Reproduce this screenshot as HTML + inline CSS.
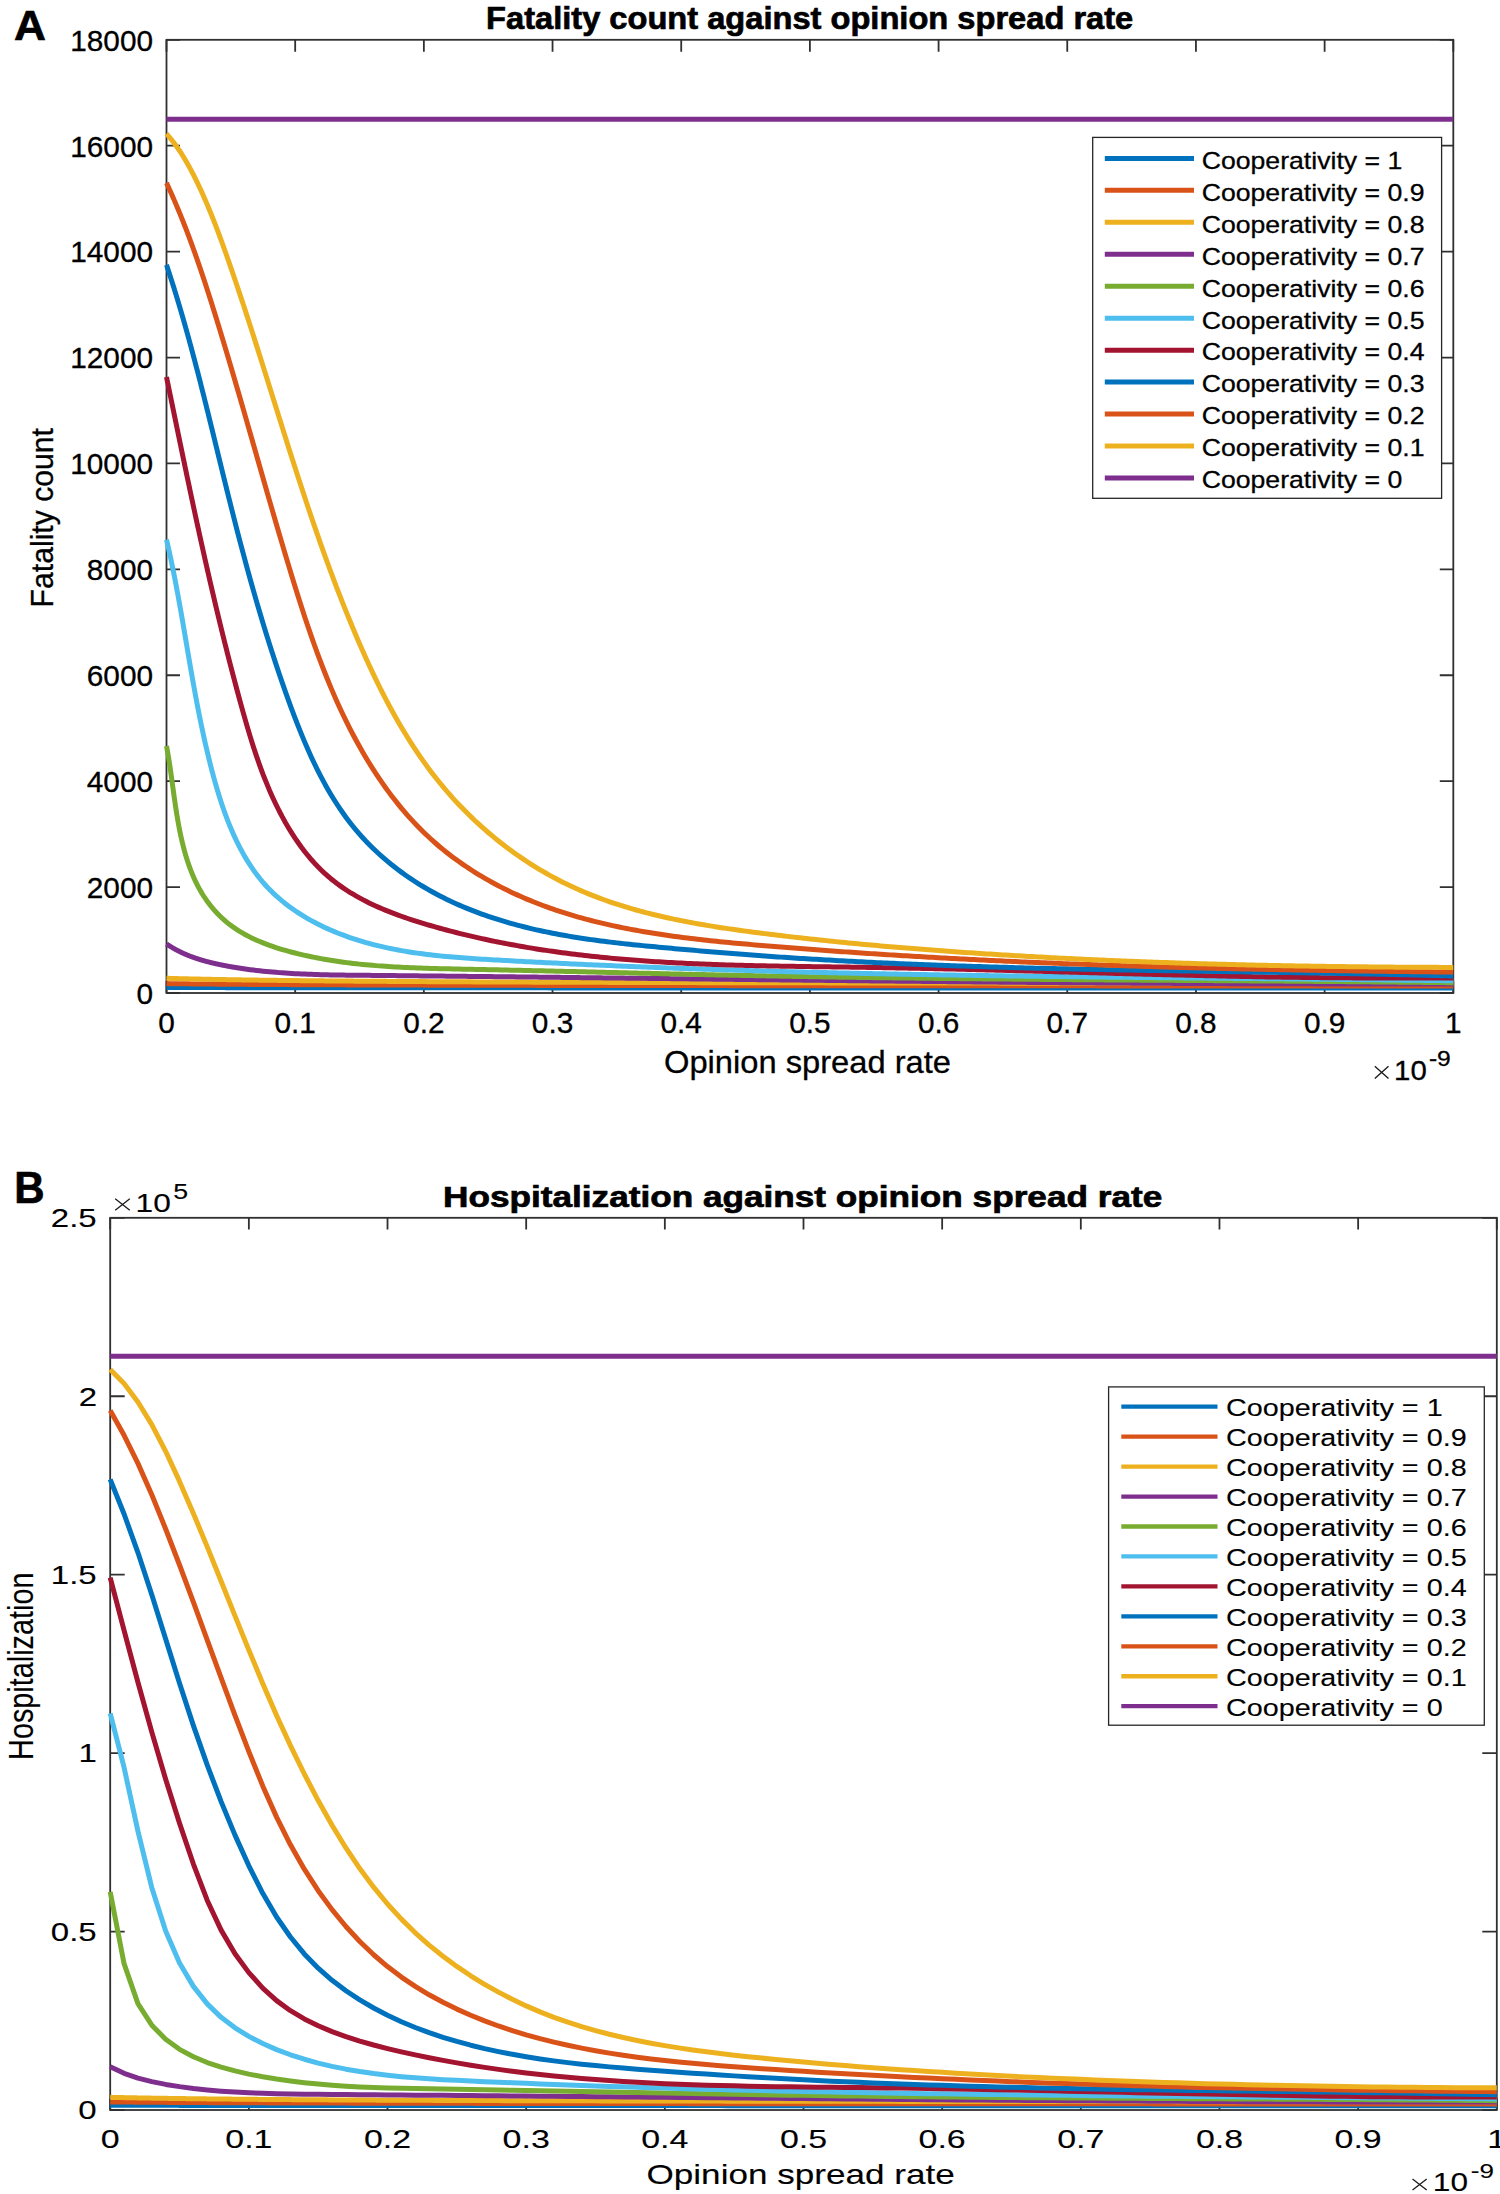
<!DOCTYPE html><html><head><meta charset="utf-8"><style>html,body{margin:0;padding:0;background:#fff;}svg{display:block;}text{font-family:"Liberation Sans", sans-serif;}</style></head><body>
<svg width="1500" height="2194" viewBox="0 0 1500 2194">
<rect width="1500" height="2194" fill="#fff"/>
<g stroke="#303030" stroke-width="1.8" fill="none" stroke-linecap="square">
<rect x="166.5" y="39.8" width="1286.8" height="953.2"/>
<path d="M166.50,993.0V981.00M166.50,39.8V51.80M295.18,993.0V981.00M295.18,39.8V51.80M423.86,993.0V981.00M423.86,39.8V51.80M552.54,993.0V981.00M552.54,39.8V51.80M681.22,993.0V981.00M681.22,39.8V51.80M809.90,993.0V981.00M809.90,39.8V51.80M938.58,993.0V981.00M938.58,39.8V51.80M1067.26,993.0V981.00M1067.26,39.8V51.80M1195.94,993.0V981.00M1195.94,39.8V51.80M1324.62,993.0V981.00M1324.62,39.8V51.80M1453.30,993.0V981.00M1453.30,39.8V51.80M166.5,993.00H180.00M1453.3,993.00H1439.80M166.5,887.09H180.00M1453.3,887.09H1439.80M166.5,781.18H180.00M1453.3,781.18H1439.80M166.5,675.27H180.00M1453.3,675.27H1439.80M166.5,569.36H180.00M1453.3,569.36H1439.80M166.5,463.44H180.00M1453.3,463.44H1439.80M166.5,357.53H180.00M1453.3,357.53H1439.80M166.5,251.62H180.00M1453.3,251.62H1439.80M166.5,145.71H180.00M1453.3,145.71H1439.80M166.5,39.80H180.00M1453.3,39.80H1439.80" stroke-linecap="butt"/>
</g>
<g fill="none" stroke-width="5.0" stroke-linejoin="round" stroke-linecap="butt">
<path d="M166.50,987.50 L167.14,987.50 L167.79,987.50 L168.43,987.51 L169.07,987.51 L169.72,987.51 L170.36,987.51 L171.00,987.51 L171.65,987.51 L172.29,987.52 L172.93,987.52 L173.58,987.52 L174.22,987.52 L174.86,987.52 L175.51,987.52 L176.15,987.53 L176.79,987.53 L177.44,987.53 L178.08,987.53 L178.72,987.53 L179.37,987.53 L180.01,987.53 L180.65,987.54 L181.30,987.54 L181.94,987.54 L182.59,987.54 L183.23,987.54 L183.87,987.54 L184.52,987.55 L185.16,987.55 L185.80,987.55 L186.45,987.55 L187.09,987.55 L187.73,987.55 L188.38,987.55 L189.02,987.56 L189.66,987.56 L190.31,987.56 L190.95,987.56 L191.59,987.56 L192.24,987.56 L193.52,987.57 L194.81,987.57 L196.10,987.57 L197.38,987.57 L198.67,987.58 L199.96,987.58 L201.24,987.58 L202.53,987.58 L203.82,987.59 L205.10,987.59 L206.39,987.59 L207.68,987.59 L208.96,987.60 L210.25,987.60 L211.54,987.60 L212.82,987.60 L214.11,987.61 L215.40,987.61 L216.69,987.61 L217.97,987.61 L219.26,987.62 L220.55,987.62 L221.83,987.62 L223.12,987.62 L224.41,987.62 L225.69,987.63 L226.98,987.63 L228.27,987.63 L229.55,987.63 L230.84,987.63 L232.13,987.64 L233.41,987.64 L234.70,987.64 L235.99,987.64 L237.27,987.64 L238.56,987.65 L239.85,987.65 L241.13,987.65 L242.42,987.65 L243.71,987.65 L244.99,987.66 L246.28,987.66 L247.57,987.66 L248.86,987.66 L250.14,987.66 L251.43,987.67 L252.72,987.67 L254.00,987.67 L255.29,987.67 L256.58,987.67 L257.86,987.67 L259.15,987.68 L260.44,987.68 L261.72,987.68 L263.01,987.68 L264.30,987.68 L265.58,987.68 L266.87,987.69 L268.16,987.69 L269.44,987.69 L270.73,987.69 L272.02,987.69 L273.30,987.69 L274.59,987.70 L275.88,987.70 L277.16,987.70 L278.45,987.70 L279.74,987.70 L281.03,987.70 L282.31,987.70 L283.60,987.71 L284.89,987.71 L286.17,987.71 L287.46,987.71 L288.75,987.71 L290.03,987.71 L291.32,987.71 L292.61,987.72 L293.89,987.72 L295.18,987.72 L296.47,987.72 L297.75,987.72 L299.04,987.72 L300.33,987.72 L301.61,987.73 L302.90,987.73 L304.19,987.73 L305.47,987.73 L306.76,987.73 L308.05,987.73 L309.33,987.73 L310.62,987.73 L311.91,987.74 L313.20,987.74 L314.48,987.74 L315.77,987.74 L317.06,987.74 L318.34,987.74 L319.63,987.74 L320.92,987.74 L322.20,987.75 L323.49,987.75 L324.78,987.75 L326.06,987.75 L327.35,987.75 L328.64,987.75 L329.92,987.75 L331.21,987.75 L332.50,987.75 L333.78,987.76 L335.07,987.76 L336.36,987.76 L337.64,987.76 L338.93,987.76 L340.22,987.76 L341.50,987.76 L342.79,987.76 L344.08,987.76 L345.37,987.77 L346.65,987.77 L347.94,987.77 L349.23,987.77 L350.51,987.77 L351.80,987.77 L353.09,987.77 L354.37,987.77 L355.66,987.77 L356.95,987.77 L358.23,987.78 L359.52,987.78 L360.81,987.78 L362.09,987.78 L363.38,987.78 L364.67,987.78 L365.95,987.78 L367.24,987.78 L368.53,987.78 L369.81,987.78 L371.10,987.78 L372.39,987.79 L373.67,987.79 L374.96,987.79 L376.25,987.79 L377.54,987.79 L378.82,987.79 L380.11,987.79 L381.40,987.79 L382.68,987.79 L383.97,987.79 L385.26,987.79 L386.54,987.80 L387.83,987.80 L389.12,987.80 L390.40,987.80 L391.69,987.80 L392.98,987.80 L394.26,987.80 L395.55,987.80 L396.84,987.80 L398.12,987.80 L399.41,987.80 L400.70,987.80 L401.98,987.81 L403.27,987.81 L404.56,987.81 L405.84,987.81 L407.13,987.81 L408.42,987.81 L409.71,987.81 L410.99,987.81 L412.28,987.81 L413.57,987.81 L414.85,987.81 L416.14,987.81 L417.43,987.81 L418.71,987.82 L420.00,987.82 L421.29,987.82 L422.57,987.82 L423.86,987.82 L430.29,987.82 L436.73,987.83 L443.16,987.83 L449.60,987.83 L456.03,987.84 L462.46,987.84 L468.90,987.84 L475.33,987.84 L481.77,987.85 L488.20,987.85 L494.63,987.85 L501.07,987.86 L507.50,987.86 L513.94,987.86 L520.37,987.86 L526.80,987.87 L533.24,987.87 L539.67,987.87 L546.11,987.87 L552.54,987.88 L558.97,987.88 L565.41,987.88 L571.84,987.88 L578.28,987.88 L584.71,987.89 L591.14,987.89 L597.58,987.89 L604.01,987.89 L610.45,987.89 L616.88,987.90 L623.31,987.90 L629.75,987.90 L636.18,987.90 L642.62,987.90 L649.05,987.90 L655.48,987.91 L661.92,987.91 L668.35,987.91 L674.79,987.91 L681.22,987.91 L687.65,987.91 L694.09,987.91 L700.52,987.92 L706.96,987.92 L713.39,987.92 L719.82,987.92 L726.26,987.92 L732.69,987.92 L739.13,987.92 L745.56,987.93 L751.99,987.93 L758.43,987.93 L764.86,987.93 L771.30,987.93 L777.73,987.93 L784.16,987.93 L790.60,987.93 L797.03,987.94 L803.47,987.94 L809.90,987.94 L816.33,987.94 L822.77,987.94 L829.20,987.94 L835.64,987.94 L842.07,987.94 L848.50,987.94 L854.94,987.94 L861.37,987.95 L867.81,987.95 L874.24,987.95 L880.67,987.95 L887.11,987.95 L893.54,987.95 L899.98,987.95 L906.41,987.95 L912.84,987.95 L919.28,987.95 L925.71,987.95 L932.15,987.96 L938.58,987.96 L945.01,987.96 L951.45,987.96 L957.88,987.96 L964.32,987.96 L970.75,987.96 L977.18,987.96 L983.62,987.96 L990.05,987.96 L996.49,987.96 L1002.92,987.96 L1009.35,987.97 L1015.79,987.97 L1022.22,987.97 L1028.66,987.97 L1035.09,987.97 L1041.52,987.97 L1047.96,987.97 L1054.39,987.97 L1060.83,987.97 L1067.26,987.97 L1073.69,987.97 L1080.13,987.97 L1086.56,987.97 L1093.00,987.97 L1099.43,987.97 L1105.86,987.97 L1112.30,987.98 L1118.73,987.98 L1125.17,987.98 L1131.60,987.98 L1138.03,987.98 L1144.47,987.98 L1150.90,987.98 L1157.34,987.98 L1163.77,987.98 L1170.20,987.98 L1176.64,987.98 L1183.07,987.98 L1189.51,987.98 L1195.94,987.98 L1202.37,987.98 L1208.81,987.98 L1215.24,987.98 L1221.68,987.98 L1228.11,987.99 L1234.54,987.99 L1240.98,987.99 L1247.41,987.99 L1253.85,987.99 L1260.28,987.99 L1266.71,987.99 L1273.15,987.99 L1279.58,987.99 L1286.02,987.99 L1292.45,987.99 L1298.88,987.99 L1305.32,987.99 L1311.75,987.99 L1318.19,987.99 L1324.62,987.99 L1331.05,987.99 L1337.49,987.99 L1343.92,987.99 L1350.36,987.99 L1356.79,987.99 L1363.22,987.99 L1369.66,988.00 L1376.09,988.00 L1382.53,988.00 L1388.96,988.00 L1395.39,988.00 L1401.83,988.00 L1408.26,988.00 L1414.70,988.00 L1421.13,988.00 L1427.56,988.00 L1434.00,988.00 L1440.43,988.00 L1446.87,988.00 L1453.30,988.00" stroke="#0072BD"/>
<path d="M166.50,983.60 L167.14,983.61 L167.79,983.62 L168.43,983.62 L169.07,983.63 L169.72,983.64 L170.36,983.65 L171.00,983.66 L171.65,983.67 L172.29,983.67 L172.93,983.68 L173.58,983.69 L174.22,983.70 L174.86,983.71 L175.51,983.71 L176.15,983.72 L176.79,983.73 L177.44,983.74 L178.08,983.74 L178.72,983.75 L179.37,983.76 L180.01,983.77 L180.65,983.77 L181.30,983.78 L181.94,983.79 L182.59,983.80 L183.23,983.80 L183.87,983.81 L184.52,983.82 L185.16,983.82 L185.80,983.83 L186.45,983.84 L187.09,983.85 L187.73,983.85 L188.38,983.86 L189.02,983.87 L189.66,983.87 L190.31,983.88 L190.95,983.89 L191.59,983.89 L192.24,983.90 L193.52,983.91 L194.81,983.93 L196.10,983.94 L197.38,983.95 L198.67,983.97 L199.96,983.98 L201.24,983.99 L202.53,984.00 L203.82,984.01 L205.10,984.03 L206.39,984.04 L207.68,984.05 L208.96,984.06 L210.25,984.07 L211.54,984.09 L212.82,984.10 L214.11,984.11 L215.40,984.12 L216.69,984.13 L217.97,984.14 L219.26,984.15 L220.55,984.16 L221.83,984.17 L223.12,984.18 L224.41,984.20 L225.69,984.21 L226.98,984.22 L228.27,984.23 L229.55,984.24 L230.84,984.25 L232.13,984.26 L233.41,984.27 L234.70,984.28 L235.99,984.29 L237.27,984.29 L238.56,984.30 L239.85,984.31 L241.13,984.32 L242.42,984.33 L243.71,984.34 L244.99,984.35 L246.28,984.36 L247.57,984.37 L248.86,984.38 L250.14,984.39 L251.43,984.39 L252.72,984.40 L254.00,984.41 L255.29,984.42 L256.58,984.43 L257.86,984.44 L259.15,984.44 L260.44,984.45 L261.72,984.46 L263.01,984.47 L264.30,984.48 L265.58,984.48 L266.87,984.49 L268.16,984.50 L269.44,984.51 L270.73,984.52 L272.02,984.52 L273.30,984.53 L274.59,984.54 L275.88,984.55 L277.16,984.55 L278.45,984.56 L279.74,984.57 L281.03,984.57 L282.31,984.58 L283.60,984.59 L284.89,984.60 L286.17,984.60 L287.46,984.61 L288.75,984.62 L290.03,984.62 L291.32,984.63 L292.61,984.64 L293.89,984.64 L295.18,984.65 L296.47,984.66 L297.75,984.66 L299.04,984.67 L300.33,984.68 L301.61,984.68 L302.90,984.69 L304.19,984.69 L305.47,984.70 L306.76,984.71 L308.05,984.71 L309.33,984.72 L310.62,984.73 L311.91,984.73 L313.20,984.74 L314.48,984.74 L315.77,984.75 L317.06,984.75 L318.34,984.76 L319.63,984.77 L320.92,984.77 L322.20,984.78 L323.49,984.78 L324.78,984.79 L326.06,984.79 L327.35,984.80 L328.64,984.81 L329.92,984.81 L331.21,984.82 L332.50,984.82 L333.78,984.83 L335.07,984.83 L336.36,984.84 L337.64,984.84 L338.93,984.85 L340.22,984.85 L341.50,984.86 L342.79,984.86 L344.08,984.87 L345.37,984.87 L346.65,984.88 L347.94,984.88 L349.23,984.89 L350.51,984.89 L351.80,984.90 L353.09,984.90 L354.37,984.91 L355.66,984.91 L356.95,984.92 L358.23,984.92 L359.52,984.93 L360.81,984.93 L362.09,984.94 L363.38,984.94 L364.67,984.94 L365.95,984.95 L367.24,984.95 L368.53,984.96 L369.81,984.96 L371.10,984.97 L372.39,984.97 L373.67,984.98 L374.96,984.98 L376.25,984.98 L377.54,984.99 L378.82,984.99 L380.11,985.00 L381.40,985.00 L382.68,985.01 L383.97,985.01 L385.26,985.01 L386.54,985.02 L387.83,985.02 L389.12,985.03 L390.40,985.03 L391.69,985.03 L392.98,985.04 L394.26,985.04 L395.55,985.05 L396.84,985.05 L398.12,985.05 L399.41,985.06 L400.70,985.06 L401.98,985.07 L403.27,985.07 L404.56,985.07 L405.84,985.08 L407.13,985.08 L408.42,985.08 L409.71,985.09 L410.99,985.09 L412.28,985.10 L413.57,985.10 L414.85,985.10 L416.14,985.11 L417.43,985.11 L418.71,985.11 L420.00,985.12 L421.29,985.12 L422.57,985.12 L423.86,985.13 L430.29,985.14 L436.73,985.16 L443.16,985.18 L449.60,985.19 L456.03,985.21 L462.46,985.22 L468.90,985.24 L475.33,985.25 L481.77,985.27 L488.20,985.28 L494.63,985.29 L501.07,985.31 L507.50,985.32 L513.94,985.33 L520.37,985.34 L526.80,985.36 L533.24,985.37 L539.67,985.38 L546.11,985.39 L552.54,985.40 L558.97,985.41 L565.41,985.42 L571.84,985.43 L578.28,985.44 L584.71,985.45 L591.14,985.46 L597.58,985.47 L604.01,985.48 L610.45,985.49 L616.88,985.50 L623.31,985.51 L629.75,985.51 L636.18,985.52 L642.62,985.53 L649.05,985.54 L655.48,985.55 L661.92,985.55 L668.35,985.56 L674.79,985.57 L681.22,985.58 L687.65,985.58 L694.09,985.59 L700.52,985.60 L706.96,985.60 L713.39,985.61 L719.82,985.62 L726.26,985.62 L732.69,985.63 L739.13,985.64 L745.56,985.64 L751.99,985.65 L758.43,985.66 L764.86,985.66 L771.30,985.67 L777.73,985.67 L784.16,985.68 L790.60,985.68 L797.03,985.69 L803.47,985.69 L809.90,985.70 L816.33,985.71 L822.77,985.71 L829.20,985.72 L835.64,985.72 L842.07,985.73 L848.50,985.73 L854.94,985.73 L861.37,985.74 L867.81,985.74 L874.24,985.75 L880.67,985.75 L887.11,985.76 L893.54,985.76 L899.98,985.77 L906.41,985.77 L912.84,985.77 L919.28,985.78 L925.71,985.78 L932.15,985.79 L938.58,985.79 L945.01,985.80 L951.45,985.80 L957.88,985.80 L964.32,985.81 L970.75,985.81 L977.18,985.81 L983.62,985.82 L990.05,985.82 L996.49,985.83 L1002.92,985.83 L1009.35,985.83 L1015.79,985.84 L1022.22,985.84 L1028.66,985.84 L1035.09,985.85 L1041.52,985.85 L1047.96,985.85 L1054.39,985.86 L1060.83,985.86 L1067.26,985.86 L1073.69,985.86 L1080.13,985.87 L1086.56,985.87 L1093.00,985.87 L1099.43,985.88 L1105.86,985.88 L1112.30,985.88 L1118.73,985.89 L1125.17,985.89 L1131.60,985.89 L1138.03,985.89 L1144.47,985.90 L1150.90,985.90 L1157.34,985.90 L1163.77,985.90 L1170.20,985.91 L1176.64,985.91 L1183.07,985.91 L1189.51,985.91 L1195.94,985.92 L1202.37,985.92 L1208.81,985.92 L1215.24,985.92 L1221.68,985.93 L1228.11,985.93 L1234.54,985.93 L1240.98,985.93 L1247.41,985.94 L1253.85,985.94 L1260.28,985.94 L1266.71,985.94 L1273.15,985.95 L1279.58,985.95 L1286.02,985.95 L1292.45,985.95 L1298.88,985.95 L1305.32,985.96 L1311.75,985.96 L1318.19,985.96 L1324.62,985.96 L1331.05,985.96 L1337.49,985.97 L1343.92,985.97 L1350.36,985.97 L1356.79,985.97 L1363.22,985.97 L1369.66,985.98 L1376.09,985.98 L1382.53,985.98 L1388.96,985.98 L1395.39,985.98 L1401.83,985.99 L1408.26,985.99 L1414.70,985.99 L1421.13,985.99 L1427.56,985.99 L1434.00,985.99 L1440.43,986.00 L1446.87,986.00 L1453.30,986.00" stroke="#D95319"/>
<path d="M166.50,978.30 L167.14,978.32 L167.79,978.34 L168.43,978.35 L169.07,978.37 L169.72,978.39 L170.36,978.41 L171.00,978.42 L171.65,978.44 L172.29,978.46 L172.93,978.48 L173.58,978.49 L174.22,978.51 L174.86,978.53 L175.51,978.54 L176.15,978.56 L176.79,978.58 L177.44,978.59 L178.08,978.61 L178.72,978.63 L179.37,978.64 L180.01,978.66 L180.65,978.68 L181.30,978.69 L181.94,978.71 L182.59,978.72 L183.23,978.74 L183.87,978.75 L184.52,978.77 L185.16,978.79 L185.80,978.80 L186.45,978.82 L187.09,978.83 L187.73,978.85 L188.38,978.86 L189.02,978.88 L189.66,978.89 L190.31,978.91 L190.95,978.92 L191.59,978.94 L192.24,978.95 L193.52,978.98 L194.81,979.01 L196.10,979.04 L197.38,979.06 L198.67,979.09 L199.96,979.12 L201.24,979.15 L202.53,979.17 L203.82,979.20 L205.10,979.23 L206.39,979.25 L207.68,979.28 L208.96,979.30 L210.25,979.33 L211.54,979.35 L212.82,979.38 L214.11,979.40 L215.40,979.43 L216.69,979.45 L217.97,979.47 L219.26,979.50 L220.55,979.52 L221.83,979.54 L223.12,979.57 L224.41,979.59 L225.69,979.61 L226.98,979.63 L228.27,979.66 L229.55,979.68 L230.84,979.70 L232.13,979.72 L233.41,979.74 L234.70,979.76 L235.99,979.78 L237.27,979.81 L238.56,979.83 L239.85,979.85 L241.13,979.87 L242.42,979.89 L243.71,979.91 L244.99,979.93 L246.28,979.94 L247.57,979.96 L248.86,979.98 L250.14,980.00 L251.43,980.02 L252.72,980.04 L254.00,980.06 L255.29,980.08 L256.58,980.09 L257.86,980.11 L259.15,980.13 L260.44,980.15 L261.72,980.17 L263.01,980.18 L264.30,980.20 L265.58,980.22 L266.87,980.23 L268.16,980.25 L269.44,980.27 L270.73,980.28 L272.02,980.30 L273.30,980.32 L274.59,980.33 L275.88,980.35 L277.16,980.36 L278.45,980.38 L279.74,980.40 L281.03,980.41 L282.31,980.43 L283.60,980.44 L284.89,980.46 L286.17,980.47 L287.46,980.49 L288.75,980.50 L290.03,980.52 L291.32,980.53 L292.61,980.55 L293.89,980.56 L295.18,980.57 L296.47,980.59 L297.75,980.60 L299.04,980.62 L300.33,980.63 L301.61,980.64 L302.90,980.66 L304.19,980.67 L305.47,980.69 L306.76,980.70 L308.05,980.71 L309.33,980.73 L310.62,980.74 L311.91,980.75 L313.20,980.76 L314.48,980.78 L315.77,980.79 L317.06,980.80 L318.34,980.81 L319.63,980.83 L320.92,980.84 L322.20,980.85 L323.49,980.86 L324.78,980.88 L326.06,980.89 L327.35,980.90 L328.64,980.91 L329.92,980.92 L331.21,980.94 L332.50,980.95 L333.78,980.96 L335.07,980.97 L336.36,980.98 L337.64,980.99 L338.93,981.00 L340.22,981.01 L341.50,981.03 L342.79,981.04 L344.08,981.05 L345.37,981.06 L346.65,981.07 L347.94,981.08 L349.23,981.09 L350.51,981.10 L351.80,981.11 L353.09,981.12 L354.37,981.13 L355.66,981.14 L356.95,981.15 L358.23,981.16 L359.52,981.17 L360.81,981.18 L362.09,981.19 L363.38,981.20 L364.67,981.21 L365.95,981.22 L367.24,981.23 L368.53,981.24 L369.81,981.25 L371.10,981.26 L372.39,981.27 L373.67,981.28 L374.96,981.29 L376.25,981.30 L377.54,981.31 L378.82,981.32 L380.11,981.33 L381.40,981.34 L382.68,981.35 L383.97,981.35 L385.26,981.36 L386.54,981.37 L387.83,981.38 L389.12,981.39 L390.40,981.40 L391.69,981.41 L392.98,981.42 L394.26,981.42 L395.55,981.43 L396.84,981.44 L398.12,981.45 L399.41,981.46 L400.70,981.47 L401.98,981.48 L403.27,981.48 L404.56,981.49 L405.84,981.50 L407.13,981.51 L408.42,981.52 L409.71,981.52 L410.99,981.53 L412.28,981.54 L413.57,981.55 L414.85,981.56 L416.14,981.56 L417.43,981.57 L418.71,981.58 L420.00,981.59 L421.29,981.59 L422.57,981.60 L423.86,981.61 L430.29,981.65 L436.73,981.68 L443.16,981.72 L449.60,981.75 L456.03,981.79 L462.46,981.82 L468.90,981.85 L475.33,981.88 L481.77,981.91 L488.20,981.94 L494.63,981.97 L501.07,982.00 L507.50,982.02 L513.94,982.05 L520.37,982.08 L526.80,982.10 L533.24,982.13 L539.67,982.15 L546.11,982.18 L552.54,982.20 L558.97,982.22 L565.41,982.25 L571.84,982.27 L578.28,982.29 L584.71,982.31 L591.14,982.33 L597.58,982.35 L604.01,982.37 L610.45,982.39 L616.88,982.41 L623.31,982.43 L629.75,982.45 L636.18,982.46 L642.62,982.48 L649.05,982.50 L655.48,982.52 L661.92,982.53 L668.35,982.55 L674.79,982.57 L681.22,982.58 L687.65,982.60 L694.09,982.61 L700.52,982.63 L706.96,982.64 L713.39,982.66 L719.82,982.67 L726.26,982.69 L732.69,982.70 L739.13,982.71 L745.56,982.73 L751.99,982.74 L758.43,982.75 L764.86,982.77 L771.30,982.78 L777.73,982.79 L784.16,982.80 L790.60,982.82 L797.03,982.83 L803.47,982.84 L809.90,982.85 L816.33,982.86 L822.77,982.87 L829.20,982.88 L835.64,982.89 L842.07,982.90 L848.50,982.92 L854.94,982.93 L861.37,982.94 L867.81,982.95 L874.24,982.96 L880.67,982.97 L887.11,982.98 L893.54,982.98 L899.98,982.99 L906.41,983.00 L912.84,983.01 L919.28,983.02 L925.71,983.03 L932.15,983.04 L938.58,983.05 L945.01,983.06 L951.45,983.06 L957.88,983.07 L964.32,983.08 L970.75,983.09 L977.18,983.10 L983.62,983.11 L990.05,983.11 L996.49,983.12 L1002.92,983.13 L1009.35,983.14 L1015.79,983.14 L1022.22,983.15 L1028.66,983.16 L1035.09,983.17 L1041.52,983.17 L1047.96,983.18 L1054.39,983.19 L1060.83,983.19 L1067.26,983.20 L1073.69,983.21 L1080.13,983.21 L1086.56,983.22 L1093.00,983.23 L1099.43,983.23 L1105.86,983.24 L1112.30,983.25 L1118.73,983.25 L1125.17,983.26 L1131.60,983.26 L1138.03,983.27 L1144.47,983.28 L1150.90,983.28 L1157.34,983.29 L1163.77,983.29 L1170.20,983.30 L1176.64,983.30 L1183.07,983.31 L1189.51,983.32 L1195.94,983.32 L1202.37,983.33 L1208.81,983.33 L1215.24,983.34 L1221.68,983.34 L1228.11,983.35 L1234.54,983.35 L1240.98,983.36 L1247.41,983.36 L1253.85,983.37 L1260.28,983.37 L1266.71,983.38 L1273.15,983.38 L1279.58,983.39 L1286.02,983.39 L1292.45,983.40 L1298.88,983.40 L1305.32,983.41 L1311.75,983.41 L1318.19,983.41 L1324.62,983.42 L1331.05,983.42 L1337.49,983.43 L1343.92,983.43 L1350.36,983.44 L1356.79,983.44 L1363.22,983.44 L1369.66,983.45 L1376.09,983.45 L1382.53,983.46 L1388.96,983.46 L1395.39,983.47 L1401.83,983.47 L1408.26,983.47 L1414.70,983.48 L1421.13,983.48 L1427.56,983.48 L1434.00,983.49 L1440.43,983.49 L1446.87,983.50 L1453.30,983.50" stroke="#EDB120"/>
<path d="M166.50,943.90 L166.82,944.12 L167.14,944.34 L167.47,944.56 L167.79,944.77 L168.11,944.98 L168.43,945.19 L168.75,945.40 L169.07,945.61 L169.40,945.82 L169.72,946.02 L170.04,946.22 L170.36,946.42 L170.68,946.62 L171.00,946.82 L171.33,947.01 L171.65,947.21 L171.97,947.40 L172.29,947.59 L172.61,947.78 L172.93,947.97 L173.26,948.16 L173.58,948.34 L173.90,948.53 L174.22,948.71 L174.54,948.89 L174.86,949.07 L175.19,949.25 L175.51,949.42 L175.83,949.60 L176.15,949.77 L176.47,949.94 L176.79,950.11 L177.12,950.28 L177.44,950.45 L177.76,950.62 L178.08,950.78 L178.40,950.95 L178.72,951.11 L179.05,951.27 L179.37,951.43 L179.69,951.59 L180.01,951.75 L180.33,951.91 L180.65,952.06 L180.98,952.22 L181.30,952.37 L181.62,952.52 L181.94,952.68 L182.26,952.83 L182.59,952.97 L182.91,953.12 L183.23,953.27 L183.55,953.41 L183.87,953.56 L184.19,953.70 L184.52,953.84 L184.84,953.98 L185.16,954.12 L185.48,954.26 L185.80,954.40 L186.12,954.54 L186.45,954.67 L186.77,954.81 L187.09,954.94 L187.41,955.07 L187.73,955.20 L188.05,955.33 L188.38,955.46 L188.70,955.59 L189.02,955.72 L189.34,955.85 L189.66,955.97 L189.98,956.10 L190.31,956.22 L190.63,956.35 L190.95,956.47 L191.27,956.59 L191.59,956.71 L191.91,956.83 L192.24,956.95 L192.56,957.07 L192.88,957.18 L193.20,957.30 L193.52,957.41 L193.84,957.53 L194.17,957.64 L194.49,957.75 L194.81,957.87 L195.13,957.98 L195.45,958.09 L195.77,958.20 L196.10,958.31 L196.42,958.41 L196.74,958.52 L197.06,958.63 L197.38,958.73 L197.70,958.84 L198.03,958.94 L198.35,959.05 L198.67,959.15 L198.99,959.25 L199.31,959.35 L199.64,959.45 L199.96,959.55 L200.28,959.65 L200.60,959.75 L200.92,959.85 L201.24,959.94 L201.57,960.04 L201.89,960.14 L202.21,960.23 L202.53,960.33 L202.85,960.42 L203.17,960.51 L203.50,960.61 L203.82,960.70 L204.14,960.79 L204.46,960.88 L204.78,960.97 L205.10,961.06 L205.43,961.15 L205.75,961.24 L206.07,961.32 L206.39,961.41 L206.71,961.50 L207.03,961.58 L207.36,961.67 L207.68,961.75 L208.00,961.84 L208.32,961.92 L208.64,962.00 L208.96,962.09 L209.29,962.17 L209.61,962.25 L209.93,962.33 L210.25,962.41 L210.57,962.49 L210.89,962.57 L211.22,962.65 L211.54,962.73 L211.86,962.81 L212.18,962.88 L212.50,962.96 L212.82,963.04 L213.15,963.11 L213.47,963.19 L213.79,963.26 L214.11,963.34 L214.43,963.41 L214.75,963.49 L215.08,963.56 L215.40,963.63 L215.72,963.71 L216.04,963.78 L216.36,963.85 L216.69,963.92 L217.01,963.99 L217.33,964.06 L217.65,964.13 L217.97,964.20 L218.29,964.27 L218.62,964.34 L218.94,964.41 L219.26,964.48 L219.58,964.54 L219.90,964.61 L220.22,964.68 L220.55,964.74 L220.87,964.81 L221.19,964.88 L221.51,964.94 L221.83,965.01 L222.15,965.07 L222.48,965.14 L222.80,965.20 L223.12,965.27 L223.44,965.33 L223.76,965.39 L224.08,965.46 L224.41,965.52 L224.73,965.58 L225.05,965.64 L225.37,965.70 L225.69,965.77 L226.01,965.83 L226.34,965.89 L226.66,965.95 L226.98,966.01 L227.30,966.07 L227.62,966.13 L227.94,966.19 L228.27,966.25 L228.59,966.31 L228.91,966.37 L229.23,966.42 L229.55,966.48 L229.87,966.54 L230.20,966.60 L230.52,966.65 L230.84,966.71 L234.06,967.27 L237.27,967.80 L240.49,968.30 L243.71,968.78 L246.93,969.23 L250.14,969.67 L253.36,970.08 L256.58,970.46 L259.79,970.83 L263.01,971.17 L266.23,971.50 L269.44,971.81 L272.66,972.09 L275.88,972.36 L279.09,972.62 L282.31,972.86 L285.53,973.08 L288.75,973.28 L291.96,973.47 L295.18,973.65 L298.40,973.82 L301.61,973.97 L304.83,974.11 L308.05,974.24 L311.26,974.36 L314.48,974.47 L317.70,974.57 L320.92,974.66 L324.13,974.74 L327.35,974.81 L330.57,974.88 L333.78,974.94 L337.00,975.00 L340.22,975.05 L343.44,975.09 L346.65,975.14 L349.87,975.18 L353.09,975.21 L356.30,975.24 L359.52,975.28 L362.74,975.31 L365.95,975.34 L369.17,975.37 L372.39,975.40 L375.61,975.43 L378.82,975.46 L382.04,975.49 L385.26,975.53 L388.47,975.56 L391.69,975.59 L394.91,975.62 L398.12,975.65 L401.34,975.68 L404.56,975.72 L407.77,975.75 L410.99,975.78 L414.21,975.81 L417.43,975.85 L420.64,975.88 L423.86,975.91 L427.08,975.94 L430.29,975.98 L433.51,976.01 L436.73,976.04 L439.94,976.08 L443.16,976.11 L446.38,976.14 L449.60,976.18 L452.81,976.21 L456.03,976.25 L459.25,976.28 L462.46,976.31 L465.68,976.35 L468.90,976.38 L472.11,976.42 L475.33,976.45 L478.55,976.49 L481.77,976.52 L484.98,976.56 L488.20,976.59 L491.42,976.62 L494.63,976.66 L497.85,976.69 L501.07,976.73 L504.29,976.77 L507.50,976.80 L510.72,976.84 L513.94,976.87 L517.15,976.91 L520.37,976.94 L523.59,976.98 L526.80,977.01 L530.02,977.05 L533.24,977.08 L536.46,977.12 L539.67,977.16 L542.89,977.19 L546.11,977.23 L549.32,977.26 L552.54,977.30 L555.76,977.34 L558.97,977.37 L562.19,977.41 L565.41,977.45 L568.62,977.48 L571.84,977.52 L575.06,977.56 L578.28,977.59 L581.49,977.63 L584.71,977.66 L587.93,977.70 L591.14,977.74 L594.36,977.77 L597.58,977.81 L600.80,977.85 L604.01,977.89 L607.23,977.92 L610.45,977.96 L613.66,978.00 L616.88,978.03 L620.10,978.07 L623.31,978.11 L626.53,978.14 L629.75,978.18 L632.96,978.22 L636.18,978.25 L639.40,978.29 L642.62,978.33 L645.83,978.36 L649.05,978.40 L652.27,978.44 L655.48,978.48 L658.70,978.51 L661.92,978.55 L665.13,978.59 L668.35,978.62 L671.57,978.66 L674.79,978.70 L678.00,978.73 L681.22,978.77 L684.44,978.81 L687.65,978.85 L690.87,978.88 L694.09,978.92 L697.30,978.96 L700.52,978.99 L703.74,979.03 L706.96,979.07 L710.17,979.10 L713.39,979.14 L716.61,979.18 L719.82,979.21 L723.04,979.25 L726.26,979.29 L729.48,979.32 L732.69,979.36 L735.91,979.40 L739.13,979.43 L742.34,979.47 L745.56,979.51 L748.78,979.54 L751.99,979.58 L755.21,979.62 L758.43,979.65 L761.64,979.69 L764.86,979.72 L768.08,979.76 L771.30,979.80 L774.51,979.83 L777.73,979.87 L780.95,979.90 L784.16,979.94 L787.38,979.98 L790.60,980.01 L793.81,980.05 L797.03,980.08 L800.25,980.12 L803.47,980.15 L806.68,980.19 L809.90,980.23 L813.12,980.26 L816.33,980.30 L819.55,980.33 L822.77,980.37 L825.99,980.40 L829.20,980.44 L832.42,980.47 L835.64,980.51 L838.85,980.54 L842.07,980.57 L845.29,980.61 L848.50,980.64 L851.72,980.68 L854.94,980.71 L858.15,980.75 L861.37,980.78 L864.59,980.81 L867.81,980.85 L871.02,980.88 L874.24,980.91 L877.46,980.95 L880.67,980.98 L883.89,981.01 L887.11,981.05 L890.32,981.08 L893.54,981.11 L896.76,981.15 L899.98,981.18 L903.19,981.21 L906.41,981.24 L909.63,981.28 L912.84,981.31 L916.06,981.34 L919.28,981.37 L922.50,981.41 L925.71,981.44 L928.93,981.47 L932.15,981.50 L935.36,981.53 L938.58,981.56 L941.80,981.59 L945.01,981.62 L948.23,981.66 L951.45,981.69 L954.67,981.72 L957.88,981.75 L961.10,981.78 L964.32,981.81 L967.53,981.84 L970.75,981.87 L973.97,981.90 L977.18,981.93 L980.40,981.96 L983.62,981.99 L986.84,982.01 L990.05,982.04 L993.27,982.07 L996.49,982.10 L999.70,982.13 L1002.92,982.16 L1006.14,982.18 L1009.35,982.21 L1012.57,982.24 L1015.79,982.27 L1019.01,982.30 L1022.22,982.32 L1025.44,982.35 L1028.66,982.38 L1031.87,982.40 L1035.09,982.43 L1038.31,982.46 L1041.52,982.48 L1044.74,982.51 L1047.96,982.53 L1051.18,982.56 L1054.39,982.59 L1057.61,982.61 L1060.83,982.64 L1064.04,982.66 L1067.26,982.68 L1070.48,982.71 L1073.69,982.73 L1076.91,982.76 L1080.13,982.78 L1083.35,982.81 L1086.56,982.83 L1089.78,982.85 L1093.00,982.87 L1096.21,982.90 L1099.43,982.92 L1102.65,982.94 L1105.86,982.96 L1109.08,982.99 L1112.30,983.01 L1115.51,983.03 L1118.73,983.05 L1121.95,983.07 L1125.17,983.09 L1128.38,983.11 L1131.60,983.13 L1134.82,983.15 L1138.03,983.17 L1141.25,983.19 L1144.47,983.21 L1147.68,983.23 L1150.90,983.25 L1154.12,983.27 L1157.34,983.29 L1160.55,983.31 L1163.77,983.33 L1166.99,983.34 L1170.20,983.36 L1173.42,983.38 L1176.64,983.40 L1179.86,983.41 L1183.07,983.43 L1186.29,983.45 L1189.51,983.46 L1192.72,983.48 L1195.94,983.49 L1199.16,983.51 L1202.37,983.52 L1205.59,983.54 L1208.81,983.55 L1212.03,983.57 L1215.24,983.58 L1218.46,983.60 L1221.68,983.61 L1224.89,983.62 L1228.11,983.63 L1231.33,983.65 L1234.54,983.66 L1237.76,983.67 L1240.98,983.68 L1244.19,983.70 L1247.41,983.71 L1250.63,983.72 L1253.85,983.73 L1257.06,983.74 L1260.28,983.75 L1263.50,983.76 L1266.71,983.77 L1269.93,983.78 L1273.15,983.79 L1276.37,983.80 L1279.58,983.80 L1282.80,983.81 L1286.02,983.82 L1289.23,983.83 L1292.45,983.83 L1295.67,983.84 L1298.88,983.85 L1302.10,983.85 L1305.32,983.86 L1308.54,983.87 L1311.75,983.87 L1314.97,983.88 L1318.19,983.88 L1321.40,983.89 L1324.62,983.89 L1327.84,983.89 L1331.05,983.90 L1334.27,983.90 L1337.49,983.90 L1340.71,983.91 L1343.92,983.91 L1347.14,983.91 L1350.36,983.91 L1353.57,983.91 L1356.79,983.91 L1360.01,983.91 L1363.22,983.91 L1366.44,983.91 L1369.66,983.91 L1372.88,983.91 L1376.09,983.91 L1379.31,983.91 L1382.53,983.91 L1385.74,983.91 L1388.96,983.91 L1392.18,983.91 L1395.39,983.91 L1398.61,983.91 L1401.83,983.91 L1405.05,983.91 L1408.26,983.91 L1411.48,983.91 L1414.70,983.91 L1417.91,983.91 L1421.13,983.91 L1424.35,983.91 L1427.56,983.91 L1430.78,983.91 L1434.00,983.91 L1437.21,983.91 L1440.43,983.91 L1443.65,983.91 L1446.87,983.91 L1450.08,983.91 L1453.30,983.91" stroke="#7E2F8E"/>
<path d="M166.50,746.05 L166.82,747.74 L167.14,749.45 L167.47,751.20 L167.79,753.01 L168.11,754.87 L168.43,756.78 L168.75,758.75 L169.07,760.76 L169.40,762.83 L169.72,764.94 L170.04,767.10 L170.36,769.30 L170.68,771.54 L171.00,773.82 L171.33,776.12 L171.65,778.45 L171.97,780.79 L172.29,783.15 L172.61,785.51 L172.93,787.86 L173.26,790.22 L173.58,792.55 L173.90,794.87 L174.22,797.17 L174.54,799.44 L174.86,801.67 L175.19,803.87 L175.51,806.04 L175.83,808.16 L176.15,810.25 L176.47,812.29 L176.79,814.29 L177.12,816.25 L177.44,818.17 L177.76,820.04 L178.08,821.87 L178.40,823.66 L178.72,825.41 L179.05,827.12 L179.37,828.79 L179.69,830.42 L180.01,832.02 L180.33,833.58 L180.65,835.10 L180.98,836.59 L181.30,838.05 L181.62,839.48 L181.94,840.87 L182.26,842.24 L182.59,843.58 L182.91,844.89 L183.23,846.17 L183.55,847.43 L183.87,848.66 L184.19,849.86 L184.52,851.05 L184.84,852.21 L185.16,853.35 L185.48,854.46 L185.80,855.56 L186.12,856.64 L186.45,857.69 L186.77,858.73 L187.09,859.75 L187.41,860.75 L187.73,861.73 L188.05,862.70 L188.38,863.65 L188.70,864.59 L189.02,865.51 L189.34,866.41 L189.66,867.30 L189.98,868.18 L190.31,869.04 L190.63,869.89 L190.95,870.72 L191.27,871.54 L191.59,872.35 L191.91,873.15 L192.24,873.94 L192.56,874.71 L192.88,875.48 L193.20,876.23 L193.52,876.97 L193.84,877.70 L194.17,878.42 L194.49,879.14 L194.81,879.84 L195.13,880.53 L195.45,881.21 L195.77,881.89 L196.10,882.55 L196.42,883.21 L196.74,883.85 L197.06,884.49 L197.38,885.12 L197.70,885.75 L198.03,886.36 L198.35,886.97 L198.67,887.57 L198.99,888.16 L199.31,888.75 L199.64,889.32 L199.96,889.89 L200.28,890.46 L200.60,891.02 L200.92,891.57 L201.24,892.11 L201.57,892.65 L201.89,893.18 L202.21,893.71 L202.53,894.23 L202.85,894.75 L203.17,895.26 L203.50,895.76 L203.82,896.26 L204.14,896.76 L204.46,897.25 L204.78,897.73 L205.10,898.21 L205.43,898.68 L205.75,899.15 L206.07,899.62 L206.39,900.08 L206.71,900.53 L207.03,900.99 L207.36,901.43 L207.68,901.87 L208.00,902.31 L208.32,902.75 L208.64,903.18 L208.96,903.60 L209.29,904.02 L209.61,904.44 L209.93,904.86 L210.25,905.27 L210.57,905.67 L210.89,906.08 L211.22,906.48 L211.54,906.87 L211.86,907.26 L212.18,907.65 L212.50,908.04 L212.82,908.42 L213.15,908.80 L213.47,909.17 L213.79,909.54 L214.11,909.91 L214.43,910.28 L214.75,910.64 L215.08,911.00 L215.40,911.36 L215.72,911.71 L216.04,912.06 L216.36,912.40 L216.69,912.75 L217.01,913.09 L217.33,913.43 L217.65,913.76 L217.97,914.10 L218.29,914.42 L218.62,914.75 L218.94,915.08 L219.26,915.40 L219.58,915.72 L219.90,916.03 L220.22,916.35 L220.55,916.66 L220.87,916.97 L221.19,917.27 L221.51,917.57 L221.83,917.88 L222.15,918.17 L222.48,918.47 L222.80,918.76 L223.12,919.05 L223.44,919.34 L223.76,919.63 L224.08,919.91 L224.41,920.19 L224.73,920.47 L225.05,920.75 L225.37,921.03 L225.69,921.30 L226.01,921.57 L226.34,921.84 L226.66,922.10 L226.98,922.37 L227.30,922.63 L227.62,922.89 L227.94,923.15 L228.27,923.40 L228.59,923.66 L228.91,923.91 L229.23,924.16 L229.55,924.40 L229.87,924.65 L230.20,924.89 L230.52,925.14 L230.84,925.38 L234.06,927.68 L237.27,929.83 L240.49,931.83 L243.71,933.71 L246.93,935.47 L250.14,937.13 L253.36,938.69 L256.58,940.16 L259.79,941.55 L263.01,942.87 L266.23,944.13 L269.44,945.31 L272.66,946.44 L275.88,947.52 L279.09,948.55 L282.31,949.52 L285.53,950.46 L288.75,951.36 L291.96,952.22 L295.18,953.04 L298.40,953.83 L301.61,954.60 L304.83,955.33 L308.05,956.04 L311.26,956.72 L314.48,957.37 L317.70,958.00 L320.92,958.61 L324.13,959.19 L327.35,959.74 L330.57,960.27 L333.78,960.78 L337.00,961.27 L340.22,961.74 L343.44,962.18 L346.65,962.61 L349.87,963.02 L353.09,963.40 L356.30,963.77 L359.52,964.12 L362.74,964.45 L365.95,964.77 L369.17,965.07 L372.39,965.35 L375.61,965.62 L378.82,965.87 L382.04,966.11 L385.26,966.34 L388.47,966.55 L391.69,966.76 L394.91,966.94 L398.12,967.12 L401.34,967.29 L404.56,967.45 L407.77,967.59 L410.99,967.73 L414.21,967.86 L417.43,967.98 L420.64,968.10 L423.86,968.20 L427.08,968.30 L430.29,968.40 L433.51,968.49 L436.73,968.57 L439.94,968.65 L443.16,968.73 L446.38,968.80 L449.60,968.87 L452.81,968.94 L456.03,969.00 L459.25,969.07 L462.46,969.13 L465.68,969.20 L468.90,969.26 L472.11,969.33 L475.33,969.39 L478.55,969.46 L481.77,969.53 L484.98,969.59 L488.20,969.66 L491.42,969.73 L494.63,969.80 L497.85,969.87 L501.07,969.94 L504.29,970.01 L507.50,970.08 L510.72,970.15 L513.94,970.22 L517.15,970.29 L520.37,970.36 L523.59,970.43 L526.80,970.51 L530.02,970.58 L533.24,970.65 L536.46,970.72 L539.67,970.80 L542.89,970.87 L546.11,970.94 L549.32,971.02 L552.54,971.09 L555.76,971.17 L558.97,971.24 L562.19,971.32 L565.41,971.39 L568.62,971.47 L571.84,971.54 L575.06,971.62 L578.28,971.70 L581.49,971.77 L584.71,971.85 L587.93,971.92 L591.14,972.00 L594.36,972.08 L597.58,972.15 L600.80,972.23 L604.01,972.30 L607.23,972.38 L610.45,972.46 L613.66,972.53 L616.88,972.61 L620.10,972.68 L623.31,972.76 L626.53,972.84 L629.75,972.91 L632.96,972.99 L636.18,973.06 L639.40,973.14 L642.62,973.22 L645.83,973.29 L649.05,973.37 L652.27,973.44 L655.48,973.52 L658.70,973.59 L661.92,973.67 L665.13,973.74 L668.35,973.81 L671.57,973.89 L674.79,973.96 L678.00,974.03 L681.22,974.11 L684.44,974.18 L687.65,974.25 L690.87,974.32 L694.09,974.40 L697.30,974.47 L700.52,974.54 L703.74,974.61 L706.96,974.68 L710.17,974.75 L713.39,974.82 L716.61,974.89 L719.82,974.96 L723.04,975.03 L726.26,975.09 L729.48,975.16 L732.69,975.23 L735.91,975.30 L739.13,975.36 L742.34,975.43 L745.56,975.49 L748.78,975.56 L751.99,975.62 L755.21,975.68 L758.43,975.75 L761.64,975.81 L764.86,975.87 L768.08,975.93 L771.30,975.99 L774.51,976.05 L777.73,976.11 L780.95,976.17 L784.16,976.23 L787.38,976.29 L790.60,976.34 L793.81,976.40 L797.03,976.45 L800.25,976.51 L803.47,976.56 L806.68,976.62 L809.90,976.67 L813.12,976.72 L816.33,976.78 L819.55,976.83 L822.77,976.88 L825.99,976.93 L829.20,976.98 L832.42,977.03 L835.64,977.08 L838.85,977.13 L842.07,977.18 L845.29,977.23 L848.50,977.27 L851.72,977.32 L854.94,977.37 L858.15,977.41 L861.37,977.46 L864.59,977.50 L867.81,977.55 L871.02,977.59 L874.24,977.63 L877.46,977.68 L880.67,977.72 L883.89,977.76 L887.11,977.80 L890.32,977.85 L893.54,977.89 L896.76,977.93 L899.98,977.97 L903.19,978.01 L906.41,978.05 L909.63,978.08 L912.84,978.12 L916.06,978.16 L919.28,978.20 L922.50,978.24 L925.71,978.27 L928.93,978.31 L932.15,978.35 L935.36,978.38 L938.58,978.42 L941.80,978.45 L945.01,978.49 L948.23,978.52 L951.45,978.56 L954.67,978.59 L957.88,978.62 L961.10,978.66 L964.32,978.69 L967.53,978.72 L970.75,978.75 L973.97,978.78 L977.18,978.82 L980.40,978.85 L983.62,978.88 L986.84,978.91 L990.05,978.94 L993.27,978.97 L996.49,979.00 L999.70,979.03 L1002.92,979.06 L1006.14,979.09 L1009.35,979.12 L1012.57,979.14 L1015.79,979.17 L1019.01,979.20 L1022.22,979.23 L1025.44,979.26 L1028.66,979.28 L1031.87,979.31 L1035.09,979.34 L1038.31,979.36 L1041.52,979.39 L1044.74,979.42 L1047.96,979.44 L1051.18,979.47 L1054.39,979.49 L1057.61,979.52 L1060.83,979.55 L1064.04,979.57 L1067.26,979.60 L1070.48,979.62 L1073.69,979.64 L1076.91,979.67 L1080.13,979.69 L1083.35,979.72 L1086.56,979.74 L1089.78,979.77 L1093.00,979.79 L1096.21,979.81 L1099.43,979.84 L1102.65,979.86 L1105.86,979.88 L1109.08,979.91 L1112.30,979.93 L1115.51,979.95 L1118.73,979.98 L1121.95,980.00 L1125.17,980.02 L1128.38,980.04 L1131.60,980.07 L1134.82,980.09 L1138.03,980.11 L1141.25,980.13 L1144.47,980.16 L1147.68,980.18 L1150.90,980.20 L1154.12,980.22 L1157.34,980.24 L1160.55,980.27 L1163.77,980.29 L1166.99,980.31 L1170.20,980.33 L1173.42,980.35 L1176.64,980.38 L1179.86,980.40 L1183.07,980.42 L1186.29,980.44 L1189.51,980.46 L1192.72,980.49 L1195.94,980.51 L1199.16,980.53 L1202.37,980.55 L1205.59,980.57 L1208.81,980.60 L1212.03,980.62 L1215.24,980.64 L1218.46,980.66 L1221.68,980.68 L1224.89,980.71 L1228.11,980.73 L1231.33,980.75 L1234.54,980.77 L1237.76,980.80 L1240.98,980.82 L1244.19,980.84 L1247.41,980.87 L1250.63,980.89 L1253.85,980.91 L1257.06,980.93 L1260.28,980.96 L1263.50,980.98 L1266.71,981.00 L1269.93,981.03 L1273.15,981.05 L1276.37,981.08 L1279.58,981.10 L1282.80,981.12 L1286.02,981.15 L1289.23,981.17 L1292.45,981.20 L1295.67,981.22 L1298.88,981.25 L1302.10,981.27 L1305.32,981.30 L1308.54,981.32 L1311.75,981.35 L1314.97,981.38 L1318.19,981.40 L1321.40,981.43 L1324.62,981.45 L1327.84,981.48 L1331.05,981.51 L1334.27,981.54 L1337.49,981.56 L1340.71,981.59 L1343.92,981.62 L1347.14,981.65 L1350.36,981.67 L1353.57,981.70 L1356.79,981.73 L1360.01,981.76 L1363.22,981.79 L1366.44,981.82 L1369.66,981.85 L1372.88,981.88 L1376.09,981.91 L1379.31,981.94 L1382.53,981.97 L1385.74,982.00 L1388.96,982.04 L1392.18,982.07 L1395.39,982.10 L1398.61,982.13 L1401.83,982.16 L1405.05,982.20 L1408.26,982.23 L1411.48,982.27 L1414.70,982.30 L1417.91,982.33 L1421.13,982.37 L1424.35,982.40 L1427.56,982.44 L1430.78,982.48 L1434.00,982.51 L1437.21,982.55 L1440.43,982.59 L1443.65,982.62 L1446.87,982.66 L1450.08,982.70 L1453.30,982.73" stroke="#77AC30"/>
<path d="M166.50,539.58 L166.82,540.97 L167.14,542.36 L167.47,543.76 L167.79,545.17 L168.11,546.59 L168.43,548.02 L168.75,549.46 L169.07,550.91 L169.40,552.38 L169.72,553.85 L170.04,555.33 L170.36,556.83 L170.68,558.33 L171.00,559.85 L171.33,561.38 L171.65,562.91 L171.97,564.46 L172.29,566.02 L172.61,567.59 L172.93,569.17 L173.26,570.76 L173.58,572.36 L173.90,573.98 L174.22,575.60 L174.54,577.23 L174.86,578.88 L175.19,580.53 L175.51,582.20 L175.83,583.88 L176.15,585.56 L176.47,587.26 L176.79,588.97 L177.12,590.69 L177.44,592.41 L177.76,594.15 L178.08,595.90 L178.40,597.65 L178.72,599.42 L179.05,601.19 L179.37,602.98 L179.69,604.77 L180.01,606.57 L180.33,608.37 L180.65,610.19 L180.98,612.01 L181.30,613.84 L181.62,615.68 L181.94,617.52 L182.26,619.37 L182.59,621.22 L182.91,623.08 L183.23,624.95 L183.55,626.82 L183.87,628.69 L184.19,630.57 L184.52,632.45 L184.84,634.33 L185.16,636.21 L185.48,638.10 L185.80,639.99 L186.12,641.88 L186.45,643.77 L186.77,645.66 L187.09,647.55 L187.41,649.44 L187.73,651.32 L188.05,653.21 L188.38,655.09 L188.70,656.97 L189.02,658.85 L189.34,660.72 L189.66,662.59 L189.98,664.46 L190.31,666.32 L190.63,668.17 L190.95,670.02 L191.27,671.86 L191.59,673.70 L191.91,675.53 L192.24,677.36 L192.56,679.17 L192.88,680.98 L193.20,682.78 L193.52,684.58 L193.84,686.36 L194.17,688.14 L194.49,689.90 L194.81,691.66 L195.13,693.41 L195.45,695.15 L195.77,696.88 L196.10,698.60 L196.42,700.31 L196.74,702.01 L197.06,703.70 L197.38,705.38 L197.70,707.05 L198.03,708.71 L198.35,710.36 L198.67,712.00 L198.99,713.62 L199.31,715.24 L199.64,716.85 L199.96,718.44 L200.28,720.03 L200.60,721.60 L200.92,723.17 L201.24,724.72 L201.57,726.26 L201.89,727.79 L202.21,729.31 L202.53,730.82 L202.85,732.32 L203.17,733.81 L203.50,735.29 L203.82,736.76 L204.14,738.22 L204.46,739.67 L204.78,741.10 L205.10,742.53 L205.43,743.95 L205.75,745.36 L206.07,746.76 L206.39,748.14 L206.71,749.52 L207.03,750.89 L207.36,752.25 L207.68,753.60 L208.00,754.94 L208.32,756.27 L208.64,757.59 L208.96,758.90 L209.29,760.21 L209.61,761.50 L209.93,762.79 L210.25,764.06 L210.57,765.33 L210.89,766.59 L211.22,767.84 L211.54,769.09 L211.86,770.32 L212.18,771.55 L212.50,772.76 L212.82,773.97 L213.15,775.17 L213.47,776.36 L213.79,777.54 L214.11,778.71 L214.43,779.88 L214.75,781.03 L215.08,782.18 L215.40,783.31 L215.72,784.44 L216.04,785.56 L216.36,786.67 L216.69,787.77 L217.01,788.87 L217.33,789.95 L217.65,791.02 L217.97,792.09 L218.29,793.15 L218.62,794.20 L218.94,795.24 L219.26,796.27 L219.58,797.30 L219.90,798.31 L220.22,799.32 L220.55,800.32 L220.87,801.31 L221.19,802.29 L221.51,803.26 L221.83,804.23 L222.15,805.19 L222.48,806.14 L222.80,807.08 L223.12,808.02 L223.44,808.95 L223.76,809.87 L224.08,810.78 L224.41,811.68 L224.73,812.58 L225.05,813.47 L225.37,814.35 L225.69,815.23 L226.01,816.09 L226.34,816.96 L226.66,817.81 L226.98,818.66 L227.30,819.50 L227.62,820.33 L227.94,821.16 L228.27,821.98 L228.59,822.79 L228.91,823.60 L229.23,824.40 L229.55,825.19 L229.87,825.98 L230.20,826.76 L230.52,827.54 L230.84,828.30 L234.06,835.67 L237.27,842.48 L240.49,848.79 L243.71,854.66 L246.93,860.11 L250.14,865.19 L253.36,869.92 L256.58,874.35 L259.79,878.48 L263.01,882.36 L266.23,885.98 L269.44,889.38 L272.66,892.58 L275.88,895.60 L279.09,898.45 L282.31,901.16 L285.53,903.74 L288.75,906.19 L291.96,908.53 L295.18,910.77 L298.40,912.90 L301.61,914.95 L304.83,916.91 L308.05,918.79 L311.26,920.59 L314.48,922.32 L317.70,923.99 L320.92,925.59 L324.13,927.13 L327.35,928.61 L330.57,930.03 L333.78,931.40 L337.00,932.72 L340.22,933.99 L343.44,935.21 L346.65,936.39 L349.87,937.52 L353.09,938.60 L356.30,939.65 L359.52,940.66 L362.74,941.63 L365.95,942.55 L369.17,943.45 L372.39,944.30 L375.61,945.13 L378.82,945.92 L382.04,946.67 L385.26,947.40 L388.47,948.09 L391.69,948.76 L394.91,949.39 L398.12,950.00 L401.34,950.59 L404.56,951.15 L407.77,951.68 L410.99,952.19 L414.21,952.68 L417.43,953.14 L420.64,953.59 L423.86,954.01 L427.08,954.42 L430.29,954.81 L433.51,955.18 L436.73,955.53 L439.94,955.87 L443.16,956.19 L446.38,956.50 L449.60,956.79 L452.81,957.07 L456.03,957.34 L459.25,957.60 L462.46,957.85 L465.68,958.08 L468.90,958.31 L472.11,958.53 L475.33,958.75 L478.55,958.95 L481.77,959.15 L484.98,959.35 L488.20,959.54 L491.42,959.72 L494.63,959.91 L497.85,960.09 L501.07,960.27 L504.29,960.44 L507.50,960.62 L510.72,960.79 L513.94,960.97 L517.15,961.14 L520.37,961.31 L523.59,961.48 L526.80,961.65 L530.02,961.82 L533.24,961.99 L536.46,962.15 L539.67,962.31 L542.89,962.48 L546.11,962.64 L549.32,962.80 L552.54,962.96 L555.76,963.12 L558.97,963.27 L562.19,963.43 L565.41,963.58 L568.62,963.74 L571.84,963.89 L575.06,964.04 L578.28,964.19 L581.49,964.34 L584.71,964.48 L587.93,964.63 L591.14,964.77 L594.36,964.92 L597.58,965.06 L600.80,965.20 L604.01,965.34 L607.23,965.48 L610.45,965.62 L613.66,965.75 L616.88,965.89 L620.10,966.03 L623.31,966.16 L626.53,966.29 L629.75,966.42 L632.96,966.55 L636.18,966.68 L639.40,966.81 L642.62,966.94 L645.83,967.06 L649.05,967.19 L652.27,967.31 L655.48,967.43 L658.70,967.56 L661.92,967.68 L665.13,967.80 L668.35,967.91 L671.57,968.03 L674.79,968.15 L678.00,968.26 L681.22,968.38 L684.44,968.49 L687.65,968.60 L690.87,968.72 L694.09,968.83 L697.30,968.94 L700.52,969.04 L703.74,969.15 L706.96,969.26 L710.17,969.37 L713.39,969.47 L716.61,969.57 L719.82,969.68 L723.04,969.78 L726.26,969.88 L729.48,969.98 L732.69,970.08 L735.91,970.18 L739.13,970.28 L742.34,970.37 L745.56,970.47 L748.78,970.56 L751.99,970.66 L755.21,970.75 L758.43,970.84 L761.64,970.93 L764.86,971.02 L768.08,971.11 L771.30,971.20 L774.51,971.29 L777.73,971.38 L780.95,971.47 L784.16,971.55 L787.38,971.64 L790.60,971.72 L793.81,971.80 L797.03,971.89 L800.25,971.97 L803.47,972.05 L806.68,972.13 L809.90,972.21 L813.12,972.29 L816.33,972.37 L819.55,972.44 L822.77,972.52 L825.99,972.60 L829.20,972.67 L832.42,972.75 L835.64,972.82 L838.85,972.89 L842.07,972.96 L845.29,973.04 L848.50,973.11 L851.72,973.18 L854.94,973.25 L858.15,973.32 L861.37,973.38 L864.59,973.45 L867.81,973.52 L871.02,973.59 L874.24,973.65 L877.46,973.72 L880.67,973.78 L883.89,973.85 L887.11,973.91 L890.32,973.97 L893.54,974.03 L896.76,974.09 L899.98,974.16 L903.19,974.22 L906.41,974.28 L909.63,974.34 L912.84,974.39 L916.06,974.45 L919.28,974.51 L922.50,974.57 L925.71,974.62 L928.93,974.68 L932.15,974.73 L935.36,974.79 L938.58,974.84 L941.80,974.90 L945.01,974.95 L948.23,975.00 L951.45,975.06 L954.67,975.11 L957.88,975.16 L961.10,975.21 L964.32,975.26 L967.53,975.31 L970.75,975.36 L973.97,975.41 L977.18,975.46 L980.40,975.51 L983.62,975.55 L986.84,975.60 L990.05,975.65 L993.27,975.69 L996.49,975.74 L999.70,975.79 L1002.92,975.83 L1006.14,975.88 L1009.35,975.92 L1012.57,975.96 L1015.79,976.01 L1019.01,976.05 L1022.22,976.09 L1025.44,976.14 L1028.66,976.18 L1031.87,976.22 L1035.09,976.26 L1038.31,976.30 L1041.52,976.34 L1044.74,976.38 L1047.96,976.42 L1051.18,976.46 L1054.39,976.50 L1057.61,976.54 L1060.83,976.58 L1064.04,976.62 L1067.26,976.66 L1070.48,976.70 L1073.69,976.73 L1076.91,976.77 L1080.13,976.81 L1083.35,976.85 L1086.56,976.88 L1089.78,976.92 L1093.00,976.95 L1096.21,976.99 L1099.43,977.03 L1102.65,977.06 L1105.86,977.10 L1109.08,977.13 L1112.30,977.17 L1115.51,977.20 L1118.73,977.24 L1121.95,977.27 L1125.17,977.30 L1128.38,977.34 L1131.60,977.37 L1134.82,977.40 L1138.03,977.44 L1141.25,977.47 L1144.47,977.50 L1147.68,977.54 L1150.90,977.57 L1154.12,977.60 L1157.34,977.63 L1160.55,977.67 L1163.77,977.70 L1166.99,977.73 L1170.20,977.76 L1173.42,977.79 L1176.64,977.83 L1179.86,977.86 L1183.07,977.89 L1186.29,977.92 L1189.51,977.95 L1192.72,977.98 L1195.94,978.01 L1199.16,978.05 L1202.37,978.08 L1205.59,978.11 L1208.81,978.14 L1212.03,978.17 L1215.24,978.20 L1218.46,978.23 L1221.68,978.26 L1224.89,978.29 L1228.11,978.32 L1231.33,978.35 L1234.54,978.39 L1237.76,978.42 L1240.98,978.45 L1244.19,978.48 L1247.41,978.51 L1250.63,978.54 L1253.85,978.57 L1257.06,978.60 L1260.28,978.63 L1263.50,978.66 L1266.71,978.69 L1269.93,978.73 L1273.15,978.76 L1276.37,978.79 L1279.58,978.82 L1282.80,978.85 L1286.02,978.88 L1289.23,978.91 L1292.45,978.95 L1295.67,978.98 L1298.88,979.01 L1302.10,979.04 L1305.32,979.07 L1308.54,979.11 L1311.75,979.14 L1314.97,979.17 L1318.19,979.20 L1321.40,979.24 L1324.62,979.27 L1327.84,979.30 L1331.05,979.34 L1334.27,979.37 L1337.49,979.40 L1340.71,979.44 L1343.92,979.47 L1347.14,979.51 L1350.36,979.54 L1353.57,979.58 L1356.79,979.61 L1360.01,979.65 L1363.22,979.68 L1366.44,979.72 L1369.66,979.75 L1372.88,979.79 L1376.09,979.82 L1379.31,979.86 L1382.53,979.90 L1385.74,979.94 L1388.96,979.97 L1392.18,980.01 L1395.39,980.05 L1398.61,980.09 L1401.83,980.13 L1405.05,980.16 L1408.26,980.20 L1411.48,980.24 L1414.70,980.28 L1417.91,980.32 L1421.13,980.36 L1424.35,980.40 L1427.56,980.44 L1430.78,980.49 L1434.00,980.53 L1437.21,980.57 L1440.43,980.61 L1443.65,980.65 L1446.87,980.70 L1450.08,980.74 L1453.30,980.78" stroke="#4DBEEE"/>
<path d="M166.50,377.04 L166.82,378.60 L167.14,380.15 L167.47,381.71 L167.79,383.27 L168.11,384.83 L168.43,386.39 L168.75,387.95 L169.07,389.51 L169.40,391.07 L169.72,392.63 L170.04,394.19 L170.36,395.75 L170.68,397.31 L171.00,398.87 L171.33,400.43 L171.65,401.99 L171.97,403.55 L172.29,405.11 L172.61,406.67 L172.93,408.23 L173.26,409.79 L173.58,411.35 L173.90,412.91 L174.22,414.47 L174.54,416.03 L174.86,417.59 L175.19,419.15 L175.51,420.71 L175.83,422.27 L176.15,423.83 L176.47,425.39 L176.79,426.94 L177.12,428.50 L177.44,430.06 L177.76,431.61 L178.08,433.17 L178.40,434.72 L178.72,436.28 L179.05,437.83 L179.37,439.39 L179.69,440.94 L180.01,442.49 L180.33,444.04 L180.65,445.59 L180.98,447.14 L181.30,448.69 L181.62,450.24 L181.94,451.79 L182.26,453.34 L182.59,454.88 L182.91,456.43 L183.23,457.97 L183.55,459.51 L183.87,461.06 L184.19,462.60 L184.52,464.14 L184.84,465.68 L185.16,467.22 L185.48,468.75 L185.80,470.29 L186.12,471.82 L186.45,473.36 L186.77,474.89 L187.09,476.42 L187.41,477.95 L187.73,479.48 L188.05,481.01 L188.38,482.53 L188.70,484.06 L189.02,485.58 L189.34,487.10 L189.66,488.62 L189.98,490.14 L190.31,491.66 L190.63,493.18 L190.95,494.69 L191.27,496.21 L191.59,497.72 L191.91,499.23 L192.24,500.74 L192.56,502.25 L192.88,503.75 L193.20,505.25 L193.52,506.76 L193.84,508.26 L194.17,509.76 L194.49,511.25 L194.81,512.75 L195.13,514.24 L195.45,515.74 L195.77,517.23 L196.10,518.71 L196.42,520.20 L196.74,521.69 L197.06,523.17 L197.38,524.65 L197.70,526.13 L198.03,527.61 L198.35,529.08 L198.67,530.56 L198.99,532.03 L199.31,533.50 L199.64,534.96 L199.96,536.43 L200.28,537.89 L200.60,539.36 L200.92,540.82 L201.24,542.27 L201.57,543.73 L201.89,545.18 L202.21,546.63 L202.53,548.08 L202.85,549.53 L203.17,550.98 L203.50,552.42 L203.82,553.86 L204.14,555.30 L204.46,556.73 L204.78,558.17 L205.10,559.60 L205.43,561.03 L205.75,562.46 L206.07,563.88 L206.39,565.31 L206.71,566.73 L207.03,568.15 L207.36,569.56 L207.68,570.98 L208.00,572.39 L208.32,573.80 L208.64,575.21 L208.96,576.61 L209.29,578.02 L209.61,579.42 L209.93,580.82 L210.25,582.21 L210.57,583.61 L210.89,585.00 L211.22,586.39 L211.54,587.77 L211.86,589.16 L212.18,590.54 L212.50,591.92 L212.82,593.30 L213.15,594.67 L213.47,596.05 L213.79,597.42 L214.11,598.78 L214.43,600.15 L214.75,601.51 L215.08,602.87 L215.40,604.23 L215.72,605.59 L216.04,606.94 L216.36,608.29 L216.69,609.64 L217.01,610.99 L217.33,612.33 L217.65,613.67 L217.97,615.01 L218.29,616.35 L218.62,617.68 L218.94,619.02 L219.26,620.35 L219.58,621.67 L219.90,623.00 L220.22,624.32 L220.55,625.64 L220.87,626.96 L221.19,628.27 L221.51,629.59 L221.83,630.90 L222.15,632.20 L222.48,633.51 L222.80,634.81 L223.12,636.11 L223.44,637.41 L223.76,638.71 L224.08,640.00 L224.41,641.29 L224.73,642.58 L225.05,643.87 L225.37,645.15 L225.69,646.43 L226.01,647.71 L226.34,648.99 L226.66,650.26 L226.98,651.53 L227.30,652.80 L227.62,654.07 L227.94,655.34 L228.27,656.60 L228.59,657.86 L228.91,659.12 L229.23,660.37 L229.55,661.62 L229.87,662.88 L230.20,664.12 L230.52,665.37 L230.84,666.61 L234.06,678.92 L237.27,691.00 L240.49,702.85 L243.71,714.44 L246.93,725.65 L250.14,736.41 L253.36,746.67 L256.58,756.39 L259.79,765.59 L263.01,774.26 L266.23,782.44 L269.44,790.15 L272.66,797.42 L275.88,804.28 L279.09,810.76 L282.31,816.89 L285.53,822.68 L288.75,828.17 L291.96,833.38 L295.18,838.33 L298.40,843.02 L301.61,847.48 L304.83,851.71 L308.05,855.73 L311.26,859.54 L314.48,863.14 L317.70,866.56 L320.92,869.79 L324.13,872.85 L327.35,875.73 L330.57,878.46 L333.78,881.06 L337.00,883.52 L340.22,885.86 L343.44,888.10 L346.65,890.23 L349.87,892.28 L353.09,894.23 L356.30,896.11 L359.52,897.91 L362.74,899.64 L365.95,901.30 L369.17,902.90 L372.39,904.45 L375.61,905.94 L378.82,907.38 L382.04,908.77 L385.26,910.12 L388.47,911.43 L391.69,912.69 L394.91,913.92 L398.12,915.11 L401.34,916.27 L404.56,917.40 L407.77,918.50 L410.99,919.57 L414.21,920.61 L417.43,921.64 L420.64,922.64 L423.86,923.61 L427.08,924.57 L430.29,925.52 L433.51,926.44 L436.73,927.35 L439.94,928.25 L443.16,929.13 L446.38,930.00 L449.60,930.85 L452.81,931.69 L456.03,932.51 L459.25,933.32 L462.46,934.12 L465.68,934.90 L468.90,935.67 L472.11,936.42 L475.33,937.16 L478.55,937.89 L481.77,938.61 L484.98,939.31 L488.20,940.00 L491.42,940.68 L494.63,941.34 L497.85,942.00 L501.07,942.64 L504.29,943.26 L507.50,943.88 L510.72,944.49 L513.94,945.08 L517.15,945.66 L520.37,946.23 L523.59,946.79 L526.80,947.34 L530.02,947.88 L533.24,948.40 L536.46,948.92 L539.67,949.42 L542.89,949.92 L546.11,950.40 L549.32,950.88 L552.54,951.34 L555.76,951.80 L558.97,952.24 L562.19,952.67 L565.41,953.10 L568.62,953.52 L571.84,953.92 L575.06,954.32 L578.28,954.71 L581.49,955.09 L584.71,955.46 L587.93,955.82 L591.14,956.17 L594.36,956.52 L597.58,956.86 L600.80,957.18 L604.01,957.51 L607.23,957.82 L610.45,958.12 L613.66,958.42 L616.88,958.71 L620.10,958.99 L623.31,959.27 L626.53,959.53 L629.75,959.79 L632.96,960.05 L636.18,960.29 L639.40,960.53 L642.62,960.77 L645.83,960.99 L649.05,961.22 L652.27,961.43 L655.48,961.64 L658.70,961.84 L661.92,962.04 L665.13,962.23 L668.35,962.41 L671.57,962.59 L674.79,962.76 L678.00,962.93 L681.22,963.09 L684.44,963.25 L687.65,963.40 L690.87,963.55 L694.09,963.69 L697.30,963.83 L700.52,963.97 L703.74,964.10 L706.96,964.22 L710.17,964.34 L713.39,964.46 L716.61,964.57 L719.82,964.68 L723.04,964.78 L726.26,964.89 L729.48,964.98 L732.69,965.08 L735.91,965.17 L739.13,965.26 L742.34,965.34 L745.56,965.42 L748.78,965.50 L751.99,965.58 L755.21,965.65 L758.43,965.72 L761.64,965.79 L764.86,965.86 L768.08,965.92 L771.30,965.98 L774.51,966.04 L777.73,966.10 L780.95,966.16 L784.16,966.21 L787.38,966.26 L790.60,966.31 L793.81,966.36 L797.03,966.41 L800.25,966.46 L803.47,966.51 L806.68,966.55 L809.90,966.60 L813.12,966.64 L816.33,966.69 L819.55,966.73 L822.77,966.77 L825.99,966.81 L829.20,966.86 L832.42,966.90 L835.64,966.94 L838.85,966.98 L842.07,967.03 L845.29,967.07 L848.50,967.11 L851.72,967.16 L854.94,967.20 L858.15,967.25 L861.37,967.29 L864.59,967.34 L867.81,967.39 L871.02,967.44 L874.24,967.49 L877.46,967.55 L880.67,967.60 L883.89,967.65 L887.11,967.71 L890.32,967.77 L893.54,967.83 L896.76,967.89 L899.98,967.95 L903.19,968.01 L906.41,968.07 L909.63,968.13 L912.84,968.20 L916.06,968.26 L919.28,968.33 L922.50,968.40 L925.71,968.46 L928.93,968.53 L932.15,968.60 L935.36,968.67 L938.58,968.74 L941.80,968.82 L945.01,968.89 L948.23,968.96 L951.45,969.04 L954.67,969.11 L957.88,969.19 L961.10,969.26 L964.32,969.34 L967.53,969.42 L970.75,969.50 L973.97,969.58 L977.18,969.66 L980.40,969.74 L983.62,969.82 L986.84,969.90 L990.05,969.98 L993.27,970.06 L996.49,970.15 L999.70,970.23 L1002.92,970.31 L1006.14,970.40 L1009.35,970.48 L1012.57,970.57 L1015.79,970.65 L1019.01,970.74 L1022.22,970.83 L1025.44,970.91 L1028.66,971.00 L1031.87,971.08 L1035.09,971.17 L1038.31,971.26 L1041.52,971.35 L1044.74,971.43 L1047.96,971.52 L1051.18,971.61 L1054.39,971.70 L1057.61,971.79 L1060.83,971.88 L1064.04,971.96 L1067.26,972.05 L1070.48,972.14 L1073.69,972.23 L1076.91,972.32 L1080.13,972.41 L1083.35,972.50 L1086.56,972.59 L1089.78,972.67 L1093.00,972.76 L1096.21,972.85 L1099.43,972.94 L1102.65,973.03 L1105.86,973.11 L1109.08,973.20 L1112.30,973.29 L1115.51,973.38 L1118.73,973.46 L1121.95,973.55 L1125.17,973.64 L1128.38,973.72 L1131.60,973.81 L1134.82,973.90 L1138.03,973.98 L1141.25,974.07 L1144.47,974.15 L1147.68,974.23 L1150.90,974.32 L1154.12,974.40 L1157.34,974.48 L1160.55,974.56 L1163.77,974.65 L1166.99,974.73 L1170.20,974.81 L1173.42,974.89 L1176.64,974.97 L1179.86,975.05 L1183.07,975.12 L1186.29,975.20 L1189.51,975.28 L1192.72,975.36 L1195.94,975.43 L1199.16,975.51 L1202.37,975.58 L1205.59,975.65 L1208.81,975.73 L1212.03,975.80 L1215.24,975.87 L1218.46,975.94 L1221.68,976.01 L1224.89,976.08 L1228.11,976.14 L1231.33,976.21 L1234.54,976.28 L1237.76,976.34 L1240.98,976.40 L1244.19,976.47 L1247.41,976.53 L1250.63,976.59 L1253.85,976.65 L1257.06,976.71 L1260.28,976.76 L1263.50,976.82 L1266.71,976.88 L1269.93,976.93 L1273.15,976.98 L1276.37,977.04 L1279.58,977.09 L1282.80,977.14 L1286.02,977.18 L1289.23,977.23 L1292.45,977.28 L1295.67,977.32 L1298.88,977.36 L1302.10,977.41 L1305.32,977.45 L1308.54,977.49 L1311.75,977.52 L1314.97,977.56 L1318.19,977.59 L1321.40,977.63 L1324.62,977.66 L1327.84,977.69 L1331.05,977.72 L1334.27,977.75 L1337.49,977.77 L1340.71,977.80 L1343.92,977.82 L1347.14,977.84 L1350.36,977.86 L1353.57,977.88 L1356.79,977.90 L1360.01,977.91 L1363.22,977.92 L1366.44,977.94 L1369.66,977.95 L1372.88,977.95 L1376.09,977.96 L1379.31,977.96 L1382.53,977.97 L1385.74,977.97 L1388.96,977.97 L1392.18,977.97 L1395.39,977.97 L1398.61,977.97 L1401.83,977.97 L1405.05,977.97 L1408.26,977.97 L1411.48,977.97 L1414.70,977.97 L1417.91,977.97 L1421.13,977.97 L1424.35,977.97 L1427.56,977.97 L1430.78,977.97 L1434.00,977.97 L1437.21,977.97 L1440.43,977.97 L1443.65,977.97 L1446.87,977.97 L1450.08,977.97 L1453.30,977.97" stroke="#A2142F"/>
<path d="M166.50,264.85 L166.82,265.82 L167.14,266.79 L167.47,267.76 L167.79,268.74 L168.11,269.71 L168.43,270.70 L168.75,271.68 L169.07,272.67 L169.40,273.66 L169.72,274.65 L170.04,275.65 L170.36,276.65 L170.68,277.65 L171.00,278.65 L171.33,279.66 L171.65,280.67 L171.97,281.68 L172.29,282.70 L172.61,283.72 L172.93,284.74 L173.26,285.77 L173.58,286.80 L173.90,287.83 L174.22,288.86 L174.54,289.90 L174.86,290.94 L175.19,291.98 L175.51,293.02 L175.83,294.07 L176.15,295.13 L176.47,296.18 L176.79,297.24 L177.12,298.30 L177.44,299.36 L177.76,300.43 L178.08,301.50 L178.40,302.57 L178.72,303.65 L179.05,304.72 L179.37,305.80 L179.69,306.89 L180.01,307.98 L180.33,309.07 L180.65,310.16 L180.98,311.26 L181.30,312.36 L181.62,313.46 L181.94,314.56 L182.26,315.67 L182.59,316.78 L182.91,317.90 L183.23,319.01 L183.55,320.13 L183.87,321.26 L184.19,322.38 L184.52,323.51 L184.84,324.64 L185.16,325.78 L185.48,326.92 L185.80,328.06 L186.12,329.20 L186.45,330.35 L186.77,331.50 L187.09,332.65 L187.41,333.80 L187.73,334.96 L188.05,336.12 L188.38,337.29 L188.70,338.45 L189.02,339.62 L189.34,340.80 L189.66,341.97 L189.98,343.15 L190.31,344.33 L190.63,345.51 L190.95,346.70 L191.27,347.89 L191.59,349.08 L191.91,350.28 L192.24,351.47 L192.56,352.67 L192.88,353.87 L193.20,355.08 L193.52,356.29 L193.84,357.50 L194.17,358.71 L194.49,359.93 L194.81,361.15 L195.13,362.37 L195.45,363.59 L195.77,364.82 L196.10,366.04 L196.42,367.27 L196.74,368.51 L197.06,369.74 L197.38,370.98 L197.70,372.22 L198.03,373.46 L198.35,374.71 L198.67,375.96 L198.99,377.20 L199.31,378.46 L199.64,379.71 L199.96,380.97 L200.28,382.22 L200.60,383.48 L200.92,384.75 L201.24,386.01 L201.57,387.28 L201.89,388.55 L202.21,389.82 L202.53,391.09 L202.85,392.36 L203.17,393.64 L203.50,394.92 L203.82,396.19 L204.14,397.48 L204.46,398.76 L204.78,400.04 L205.10,401.33 L205.43,402.62 L205.75,403.91 L206.07,405.20 L206.39,406.49 L206.71,407.78 L207.03,409.08 L207.36,410.37 L207.68,411.67 L208.00,412.97 L208.32,414.27 L208.64,415.57 L208.96,416.88 L209.29,418.18 L209.61,419.48 L209.93,420.79 L210.25,422.10 L210.57,423.40 L210.89,424.71 L211.22,426.02 L211.54,427.33 L211.86,428.64 L212.18,429.96 L212.50,431.27 L212.82,432.58 L213.15,433.90 L213.47,435.21 L213.79,436.53 L214.11,437.84 L214.43,439.16 L214.75,440.47 L215.08,441.79 L215.40,443.11 L215.72,444.42 L216.04,445.74 L216.36,447.06 L216.69,448.38 L217.01,449.70 L217.33,451.01 L217.65,452.33 L217.97,453.65 L218.29,454.97 L218.62,456.28 L218.94,457.60 L219.26,458.92 L219.58,460.23 L219.90,461.55 L220.22,462.87 L220.55,464.18 L220.87,465.50 L221.19,466.81 L221.51,468.13 L221.83,469.44 L222.15,470.75 L222.48,472.06 L222.80,473.37 L223.12,474.69 L223.44,475.99 L223.76,477.30 L224.08,478.61 L224.41,479.92 L224.73,481.22 L225.05,482.53 L225.37,483.83 L225.69,485.14 L226.01,486.44 L226.34,487.74 L226.66,489.04 L226.98,490.33 L227.30,491.63 L227.62,492.93 L227.94,494.22 L228.27,495.51 L228.59,496.80 L228.91,498.09 L229.23,499.38 L229.55,500.67 L229.87,501.95 L230.20,503.23 L230.52,504.51 L230.84,505.79 L234.06,518.49 L237.27,531.01 L240.49,543.32 L243.71,555.43 L246.93,567.31 L250.14,578.97 L253.36,590.40 L256.58,601.59 L259.79,612.55 L263.01,623.28 L266.23,633.77 L269.44,644.03 L272.66,654.07 L275.88,663.89 L279.09,673.49 L282.31,682.88 L285.53,692.06 L288.75,701.05 L291.96,709.83 L295.18,718.37 L298.40,726.66 L301.61,734.67 L304.83,742.40 L308.05,749.83 L311.26,756.96 L314.48,763.81 L317.70,770.37 L320.92,776.65 L324.13,782.67 L327.35,788.43 L330.57,793.94 L333.78,799.22 L337.00,804.27 L340.22,809.10 L343.44,813.73 L346.65,818.16 L349.87,822.41 L353.09,826.48 L356.30,830.38 L359.52,834.12 L362.74,837.71 L365.95,841.16 L369.17,844.47 L372.39,847.67 L375.61,850.76 L378.82,853.74 L382.04,856.63 L385.26,859.42 L388.47,862.12 L391.69,864.73 L394.91,867.27 L398.12,869.73 L401.34,872.12 L404.56,874.43 L407.77,876.68 L410.99,878.86 L414.21,880.99 L417.43,883.05 L420.64,885.05 L423.86,886.99 L427.08,888.88 L430.29,890.72 L433.51,892.50 L436.73,894.24 L439.94,895.92 L443.16,897.56 L446.38,899.15 L449.60,900.70 L452.81,902.20 L456.03,903.67 L459.25,905.09 L462.46,906.48 L465.68,907.83 L468.90,909.14 L472.11,910.42 L475.33,911.66 L478.55,912.87 L481.77,914.05 L484.98,915.19 L488.20,916.31 L491.42,917.39 L494.63,918.45 L497.85,919.48 L501.07,920.48 L504.29,921.45 L507.50,922.40 L510.72,923.32 L513.94,924.21 L517.15,925.08 L520.37,925.93 L523.59,926.75 L526.80,927.55 L530.02,928.33 L533.24,929.09 L536.46,929.82 L539.67,930.54 L542.89,931.23 L546.11,931.91 L549.32,932.56 L552.54,933.20 L555.76,933.82 L558.97,934.43 L562.19,935.01 L565.41,935.58 L568.62,936.14 L571.84,936.68 L575.06,937.20 L578.28,937.71 L581.49,938.21 L584.71,938.69 L587.93,939.16 L591.14,939.62 L594.36,940.06 L597.58,940.50 L600.80,940.92 L604.01,941.33 L607.23,941.73 L610.45,942.13 L613.66,942.51 L616.88,942.88 L620.10,943.25 L623.31,943.61 L626.53,943.96 L629.75,944.30 L632.96,944.64 L636.18,944.97 L639.40,945.30 L642.62,945.62 L645.83,945.94 L649.05,946.25 L652.27,946.56 L655.48,946.86 L658.70,947.16 L661.92,947.46 L665.13,947.76 L668.35,948.05 L671.57,948.34 L674.79,948.64 L678.00,948.93 L681.22,949.21 L684.44,949.50 L687.65,949.78 L690.87,950.07 L694.09,950.35 L697.30,950.63 L700.52,950.90 L703.74,951.18 L706.96,951.45 L710.17,951.72 L713.39,951.99 L716.61,952.26 L719.82,952.52 L723.04,952.79 L726.26,953.05 L729.48,953.31 L732.69,953.56 L735.91,953.82 L739.13,954.07 L742.34,954.32 L745.56,954.56 L748.78,954.81 L751.99,955.05 L755.21,955.29 L758.43,955.53 L761.64,955.76 L764.86,955.99 L768.08,956.22 L771.30,956.45 L774.51,956.67 L777.73,956.90 L780.95,957.12 L784.16,957.33 L787.38,957.55 L790.60,957.76 L793.81,957.97 L797.03,958.18 L800.25,958.38 L803.47,958.59 L806.68,958.79 L809.90,958.98 L813.12,959.18 L816.33,959.37 L819.55,959.56 L822.77,959.75 L825.99,959.94 L829.20,960.12 L832.42,960.30 L835.64,960.48 L838.85,960.66 L842.07,960.84 L845.29,961.01 L848.50,961.18 L851.72,961.35 L854.94,961.52 L858.15,961.68 L861.37,961.85 L864.59,962.01 L867.81,962.17 L871.02,962.32 L874.24,962.48 L877.46,962.63 L880.67,962.78 L883.89,962.93 L887.11,963.08 L890.32,963.23 L893.54,963.37 L896.76,963.51 L899.98,963.65 L903.19,963.79 L906.41,963.93 L909.63,964.06 L912.84,964.19 L916.06,964.33 L919.28,964.45 L922.50,964.58 L925.71,964.71 L928.93,964.83 L932.15,964.96 L935.36,965.08 L938.58,965.20 L941.80,965.31 L945.01,965.43 L948.23,965.55 L951.45,965.66 L954.67,965.77 L957.88,965.88 L961.10,965.99 L964.32,966.10 L967.53,966.20 L970.75,966.31 L973.97,966.41 L977.18,966.51 L980.40,966.61 L983.62,966.71 L986.84,966.81 L990.05,966.91 L993.27,967.00 L996.49,967.10 L999.70,967.19 L1002.92,967.28 L1006.14,967.37 L1009.35,967.46 L1012.57,967.55 L1015.79,967.63 L1019.01,967.72 L1022.22,967.80 L1025.44,967.88 L1028.66,967.97 L1031.87,968.05 L1035.09,968.13 L1038.31,968.21 L1041.52,968.28 L1044.74,968.36 L1047.96,968.44 L1051.18,968.51 L1054.39,968.58 L1057.61,968.66 L1060.83,968.73 L1064.04,968.80 L1067.26,968.87 L1070.48,968.94 L1073.69,969.01 L1076.91,969.08 L1080.13,969.14 L1083.35,969.21 L1086.56,969.27 L1089.78,969.34 L1093.00,969.40 L1096.21,969.46 L1099.43,969.53 L1102.65,969.59 L1105.86,969.65 L1109.08,969.71 L1112.30,969.77 L1115.51,969.83 L1118.73,969.88 L1121.95,969.94 L1125.17,970.00 L1128.38,970.06 L1131.60,970.11 L1134.82,970.17 L1138.03,970.22 L1141.25,970.28 L1144.47,970.33 L1147.68,970.38 L1150.90,970.44 L1154.12,970.49 L1157.34,970.54 L1160.55,970.59 L1163.77,970.65 L1166.99,970.70 L1170.20,970.75 L1173.42,970.80 L1176.64,970.85 L1179.86,970.90 L1183.07,970.95 L1186.29,971.00 L1189.51,971.05 L1192.72,971.10 L1195.94,971.15 L1199.16,971.20 L1202.37,971.24 L1205.59,971.29 L1208.81,971.34 L1212.03,971.39 L1215.24,971.44 L1218.46,971.49 L1221.68,971.53 L1224.89,971.58 L1228.11,971.63 L1231.33,971.68 L1234.54,971.73 L1237.76,971.78 L1240.98,971.82 L1244.19,971.87 L1247.41,971.92 L1250.63,971.97 L1253.85,972.02 L1257.06,972.07 L1260.28,972.12 L1263.50,972.17 L1266.71,972.21 L1269.93,972.26 L1273.15,972.31 L1276.37,972.36 L1279.58,972.42 L1282.80,972.47 L1286.02,972.52 L1289.23,972.57 L1292.45,972.62 L1295.67,972.67 L1298.88,972.73 L1302.10,972.78 L1305.32,972.83 L1308.54,972.89 L1311.75,972.94 L1314.97,972.99 L1318.19,973.05 L1321.40,973.11 L1324.62,973.16 L1327.84,973.22 L1331.05,973.28 L1334.27,973.33 L1337.49,973.39 L1340.71,973.45 L1343.92,973.51 L1347.14,973.57 L1350.36,973.63 L1353.57,973.69 L1356.79,973.76 L1360.01,973.82 L1363.22,973.88 L1366.44,973.95 L1369.66,974.01 L1372.88,974.08 L1376.09,974.15 L1379.31,974.22 L1382.53,974.28 L1385.74,974.35 L1388.96,974.42 L1392.18,974.50 L1395.39,974.57 L1398.61,974.64 L1401.83,974.72 L1405.05,974.79 L1408.26,974.87 L1411.48,974.94 L1414.70,975.02 L1417.91,975.10 L1421.13,975.18 L1424.35,975.26 L1427.56,975.35 L1430.78,975.43 L1434.00,975.51 L1437.21,975.60 L1440.43,975.69 L1443.65,975.78 L1446.87,975.87 L1450.08,975.96 L1453.30,976.04" stroke="#0072BD"/>
<path d="M166.50,182.91 L166.82,183.61 L167.14,184.30 L167.47,185.00 L167.79,185.70 L168.11,186.40 L168.43,187.10 L168.75,187.81 L169.07,188.51 L169.40,189.22 L169.72,189.93 L170.04,190.65 L170.36,191.36 L170.68,192.08 L171.00,192.80 L171.33,193.52 L171.65,194.25 L171.97,194.97 L172.29,195.70 L172.61,196.43 L172.93,197.17 L173.26,197.90 L173.58,198.64 L173.90,199.38 L174.22,200.13 L174.54,200.87 L174.86,201.62 L175.19,202.37 L175.51,203.13 L175.83,203.88 L176.15,204.64 L176.47,205.40 L176.79,206.16 L177.12,206.93 L177.44,207.70 L177.76,208.47 L178.08,209.24 L178.40,210.01 L178.72,210.79 L179.05,211.57 L179.37,212.35 L179.69,213.14 L180.01,213.92 L180.33,214.71 L180.65,215.50 L180.98,216.30 L181.30,217.10 L181.62,217.90 L181.94,218.70 L182.26,219.50 L182.59,220.31 L182.91,221.12 L183.23,221.93 L183.55,222.75 L183.87,223.56 L184.19,224.38 L184.52,225.21 L184.84,226.03 L185.16,226.86 L185.48,227.69 L185.80,228.52 L186.12,229.35 L186.45,230.19 L186.77,231.03 L187.09,231.87 L187.41,232.72 L187.73,233.57 L188.05,234.42 L188.38,235.27 L188.70,236.13 L189.02,236.98 L189.34,237.84 L189.66,238.71 L189.98,239.57 L190.31,240.44 L190.63,241.31 L190.95,242.18 L191.27,243.06 L191.59,243.94 L191.91,244.82 L192.24,245.70 L192.56,246.59 L192.88,247.48 L193.20,248.37 L193.52,249.26 L193.84,250.16 L194.17,251.06 L194.49,251.96 L194.81,252.86 L195.13,253.77 L195.45,254.68 L195.77,255.59 L196.10,256.50 L196.42,257.42 L196.74,258.34 L197.06,259.26 L197.38,260.18 L197.70,261.11 L198.03,262.04 L198.35,262.97 L198.67,263.90 L198.99,264.84 L199.31,265.77 L199.64,266.72 L199.96,267.66 L200.28,268.60 L200.60,269.55 L200.92,270.50 L201.24,271.45 L201.57,272.41 L201.89,273.37 L202.21,274.33 L202.53,275.29 L202.85,276.25 L203.17,277.22 L203.50,278.19 L203.82,279.16 L204.14,280.13 L204.46,281.11 L204.78,282.08 L205.10,283.06 L205.43,284.05 L205.75,285.03 L206.07,286.02 L206.39,287.00 L206.71,287.99 L207.03,288.99 L207.36,289.98 L207.68,290.98 L208.00,291.98 L208.32,292.98 L208.64,293.98 L208.96,294.98 L209.29,295.99 L209.61,297.00 L209.93,298.01 L210.25,299.02 L210.57,300.03 L210.89,301.05 L211.22,302.06 L211.54,303.08 L211.86,304.10 L212.18,305.12 L212.50,306.15 L212.82,307.17 L213.15,308.20 L213.47,309.23 L213.79,310.26 L214.11,311.29 L214.43,312.32 L214.75,313.36 L215.08,314.39 L215.40,315.43 L215.72,316.47 L216.04,317.51 L216.36,318.55 L216.69,319.59 L217.01,320.63 L217.33,321.68 L217.65,322.72 L217.97,323.77 L218.29,324.82 L218.62,325.87 L218.94,326.92 L219.26,327.97 L219.58,329.02 L219.90,330.08 L220.22,331.13 L220.55,332.19 L220.87,333.25 L221.19,334.30 L221.51,335.36 L221.83,336.42 L222.15,337.48 L222.48,338.55 L222.80,339.61 L223.12,340.68 L223.44,341.74 L223.76,342.81 L224.08,343.88 L224.41,344.94 L224.73,346.01 L225.05,347.09 L225.37,348.16 L225.69,349.23 L226.01,350.30 L226.34,351.38 L226.66,352.46 L226.98,353.53 L227.30,354.61 L227.62,355.69 L227.94,356.77 L228.27,357.85 L228.59,358.93 L228.91,360.01 L229.23,361.10 L229.55,362.18 L229.87,363.27 L230.20,364.35 L230.52,365.44 L230.84,366.53 L234.06,377.46 L237.27,388.46 L240.49,399.53 L243.71,410.66 L246.93,421.84 L250.14,433.05 L253.36,444.28 L256.58,455.52 L259.79,466.76 L263.01,477.99 L266.23,489.19 L269.44,500.35 L272.66,511.46 L275.88,522.51 L279.09,533.48 L282.31,544.38 L285.53,555.19 L288.75,565.90 L291.96,576.50 L295.18,586.96 L298.40,597.25 L301.61,607.33 L304.83,617.20 L308.05,626.82 L311.26,636.18 L314.48,645.29 L317.70,654.13 L320.92,662.70 L324.13,671.00 L327.35,679.04 L330.57,686.83 L333.78,694.36 L337.00,701.65 L340.22,708.71 L343.44,715.54 L346.65,722.15 L349.87,728.54 L353.09,734.74 L356.30,740.74 L359.52,746.56 L362.74,752.19 L365.95,757.66 L369.17,762.96 L372.39,768.10 L375.61,773.09 L378.82,777.94 L382.04,782.63 L385.26,787.19 L388.47,791.62 L391.69,795.91 L394.91,800.08 L398.12,804.13 L401.34,808.05 L404.56,811.87 L407.77,815.56 L410.99,819.15 L414.21,822.63 L417.43,826.01 L420.64,829.29 L423.86,832.47 L427.08,835.55 L430.29,838.54 L433.51,841.44 L436.73,844.25 L439.94,846.98 L443.16,849.63 L446.38,852.21 L449.60,854.72 L452.81,857.16 L456.03,859.53 L459.25,861.84 L462.46,864.09 L465.68,866.29 L468.90,868.42 L472.11,870.51 L475.33,872.54 L478.55,874.52 L481.77,876.46 L484.98,878.34 L488.20,880.18 L491.42,881.98 L494.63,883.73 L497.85,885.44 L501.07,887.11 L504.29,888.74 L507.50,890.33 L510.72,891.88 L513.94,893.39 L517.15,894.87 L520.37,896.31 L523.59,897.71 L526.80,899.09 L530.02,900.43 L533.24,901.73 L536.46,903.01 L539.67,904.25 L542.89,905.47 L546.11,906.65 L549.32,907.81 L552.54,908.94 L555.76,910.04 L558.97,911.12 L562.19,912.16 L565.41,913.19 L568.62,914.19 L571.84,915.16 L575.06,916.11 L578.28,917.04 L581.49,917.94 L584.71,918.82 L587.93,919.68 L591.14,920.52 L594.36,921.34 L597.58,922.14 L600.80,922.92 L604.01,923.68 L607.23,924.42 L610.45,925.15 L613.66,925.85 L616.88,926.54 L620.10,927.21 L623.31,927.86 L626.53,928.50 L629.75,929.12 L632.96,929.73 L636.18,930.32 L639.40,930.90 L642.62,931.47 L645.83,932.01 L649.05,932.55 L652.27,933.07 L655.48,933.58 L658.70,934.08 L661.92,934.57 L665.13,935.04 L668.35,935.51 L671.57,935.96 L674.79,936.40 L678.00,936.83 L681.22,937.25 L684.44,937.67 L687.65,938.07 L690.87,938.46 L694.09,938.85 L697.30,939.22 L700.52,939.59 L703.74,939.95 L706.96,940.30 L710.17,940.65 L713.39,940.99 L716.61,941.32 L719.82,941.65 L723.04,941.97 L726.26,942.28 L729.48,942.59 L732.69,942.90 L735.91,943.20 L739.13,943.49 L742.34,943.78 L745.56,944.07 L748.78,944.35 L751.99,944.63 L755.21,944.91 L758.43,945.18 L761.64,945.45 L764.86,945.72 L768.08,945.99 L771.30,946.26 L774.51,946.52 L777.73,946.78 L780.95,947.04 L784.16,947.30 L787.38,947.56 L790.60,947.81 L793.81,948.07 L797.03,948.32 L800.25,948.57 L803.47,948.81 L806.68,949.06 L809.90,949.30 L813.12,949.55 L816.33,949.79 L819.55,950.03 L822.77,950.26 L825.99,950.50 L829.20,950.73 L832.42,950.97 L835.64,951.20 L838.85,951.43 L842.07,951.65 L845.29,951.88 L848.50,952.10 L851.72,952.33 L854.94,952.55 L858.15,952.77 L861.37,952.98 L864.59,953.20 L867.81,953.41 L871.02,953.63 L874.24,953.84 L877.46,954.04 L880.67,954.25 L883.89,954.46 L887.11,954.66 L890.32,954.87 L893.54,955.07 L896.76,955.27 L899.98,955.46 L903.19,955.66 L906.41,955.86 L909.63,956.05 L912.84,956.24 L916.06,956.43 L919.28,956.62 L922.50,956.81 L925.71,956.99 L928.93,957.18 L932.15,957.36 L935.36,957.54 L938.58,957.72 L941.80,957.90 L945.01,958.07 L948.23,958.25 L951.45,958.42 L954.67,958.60 L957.88,958.77 L961.10,958.94 L964.32,959.10 L967.53,959.27 L970.75,959.43 L973.97,959.60 L977.18,959.76 L980.40,959.92 L983.62,960.08 L986.84,960.24 L990.05,960.40 L993.27,960.55 L996.49,960.70 L999.70,960.86 L1002.92,961.01 L1006.14,961.16 L1009.35,961.31 L1012.57,961.45 L1015.79,961.60 L1019.01,961.74 L1022.22,961.88 L1025.44,962.03 L1028.66,962.17 L1031.87,962.31 L1035.09,962.44 L1038.31,962.58 L1041.52,962.72 L1044.74,962.85 L1047.96,962.98 L1051.18,963.11 L1054.39,963.24 L1057.61,963.37 L1060.83,963.50 L1064.04,963.63 L1067.26,963.75 L1070.48,963.88 L1073.69,964.00 L1076.91,964.12 L1080.13,964.24 L1083.35,964.36 L1086.56,964.48 L1089.78,964.59 L1093.00,964.71 L1096.21,964.82 L1099.43,964.94 L1102.65,965.05 L1105.86,965.16 L1109.08,965.27 L1112.30,965.38 L1115.51,965.49 L1118.73,965.59 L1121.95,965.70 L1125.17,965.80 L1128.38,965.91 L1131.60,966.01 L1134.82,966.11 L1138.03,966.21 L1141.25,966.31 L1144.47,966.41 L1147.68,966.50 L1150.90,966.60 L1154.12,966.69 L1157.34,966.79 L1160.55,966.88 L1163.77,966.97 L1166.99,967.06 L1170.20,967.15 L1173.42,967.24 L1176.64,967.33 L1179.86,967.42 L1183.07,967.50 L1186.29,967.59 L1189.51,967.67 L1192.72,967.76 L1195.94,967.84 L1199.16,967.92 L1202.37,968.00 L1205.59,968.08 L1208.81,968.16 L1212.03,968.24 L1215.24,968.31 L1218.46,968.39 L1221.68,968.46 L1224.89,968.54 L1228.11,968.61 L1231.33,968.68 L1234.54,968.76 L1237.76,968.83 L1240.98,968.90 L1244.19,968.97 L1247.41,969.04 L1250.63,969.10 L1253.85,969.17 L1257.06,969.24 L1260.28,969.30 L1263.50,969.37 L1266.71,969.43 L1269.93,969.49 L1273.15,969.56 L1276.37,969.62 L1279.58,969.68 L1282.80,969.74 L1286.02,969.80 L1289.23,969.86 L1292.45,969.92 L1295.67,969.97 L1298.88,970.03 L1302.10,970.09 L1305.32,970.14 L1308.54,970.20 L1311.75,970.25 L1314.97,970.30 L1318.19,970.36 L1321.40,970.41 L1324.62,970.46 L1327.84,970.51 L1331.05,970.56 L1334.27,970.61 L1337.49,970.66 L1340.71,970.71 L1343.92,970.76 L1347.14,970.81 L1350.36,970.85 L1353.57,970.90 L1356.79,970.95 L1360.01,970.99 L1363.22,971.04 L1366.44,971.08 L1369.66,971.12 L1372.88,971.17 L1376.09,971.21 L1379.31,971.25 L1382.53,971.29 L1385.74,971.34 L1388.96,971.38 L1392.18,971.42 L1395.39,971.46 L1398.61,971.50 L1401.83,971.54 L1405.05,971.58 L1408.26,971.61 L1411.48,971.65 L1414.70,971.69 L1417.91,971.73 L1421.13,971.76 L1424.35,971.80 L1427.56,971.84 L1430.78,971.87 L1434.00,971.91 L1437.21,971.94 L1440.43,971.98 L1443.65,972.01 L1446.87,972.05 L1450.08,972.08 L1453.30,972.11" stroke="#D95319"/>
<path d="M166.50,133.74 L166.82,134.11 L167.14,134.49 L167.47,134.87 L167.79,135.25 L168.11,135.62 L168.43,136.00 L168.75,136.38 L169.07,136.76 L169.40,137.14 L169.72,137.53 L170.04,137.92 L170.36,138.31 L170.68,138.71 L171.00,139.10 L171.33,139.50 L171.65,139.91 L171.97,140.31 L172.29,140.72 L172.61,141.14 L172.93,141.55 L173.26,141.97 L173.58,142.39 L173.90,142.81 L174.22,143.24 L174.54,143.67 L174.86,144.11 L175.19,144.54 L175.51,144.98 L175.83,145.42 L176.15,145.87 L176.47,146.32 L176.79,146.77 L177.12,147.23 L177.44,147.69 L177.76,148.15 L178.08,148.61 L178.40,149.08 L178.72,149.55 L179.05,150.03 L179.37,150.51 L179.69,150.99 L180.01,151.47 L180.33,151.96 L180.65,152.45 L180.98,152.95 L181.30,153.45 L181.62,153.95 L181.94,154.46 L182.26,154.97 L182.59,155.48 L182.91,156.00 L183.23,156.52 L183.55,157.04 L183.87,157.56 L184.19,158.09 L184.52,158.63 L184.84,159.17 L185.16,159.71 L185.48,160.25 L185.80,160.80 L186.12,161.35 L186.45,161.90 L186.77,162.46 L187.09,163.02 L187.41,163.59 L187.73,164.16 L188.05,164.73 L188.38,165.31 L188.70,165.89 L189.02,166.47 L189.34,167.06 L189.66,167.65 L189.98,168.24 L190.31,168.84 L190.63,169.44 L190.95,170.04 L191.27,170.65 L191.59,171.26 L191.91,171.87 L192.24,172.49 L192.56,173.11 L192.88,173.73 L193.20,174.36 L193.52,174.99 L193.84,175.62 L194.17,176.26 L194.49,176.89 L194.81,177.54 L195.13,178.18 L195.45,178.83 L195.77,179.48 L196.10,180.13 L196.42,180.79 L196.74,181.45 L197.06,182.11 L197.38,182.78 L197.70,183.44 L198.03,184.12 L198.35,184.79 L198.67,185.47 L198.99,186.15 L199.31,186.83 L199.64,187.52 L199.96,188.20 L200.28,188.90 L200.60,189.59 L200.92,190.29 L201.24,190.99 L201.57,191.69 L201.89,192.40 L202.21,193.11 L202.53,193.83 L202.85,194.54 L203.17,195.26 L203.50,195.98 L203.82,196.71 L204.14,197.44 L204.46,198.17 L204.78,198.90 L205.10,199.64 L205.43,200.38 L205.75,201.13 L206.07,201.87 L206.39,202.62 L206.71,203.38 L207.03,204.13 L207.36,204.89 L207.68,205.66 L208.00,206.42 L208.32,207.19 L208.64,207.96 L208.96,208.74 L209.29,209.51 L209.61,210.29 L209.93,211.08 L210.25,211.86 L210.57,212.65 L210.89,213.45 L211.22,214.24 L211.54,215.04 L211.86,215.84 L212.18,216.65 L212.50,217.46 L212.82,218.27 L213.15,219.08 L213.47,219.90 L213.79,220.72 L214.11,221.54 L214.43,222.36 L214.75,223.19 L215.08,224.02 L215.40,224.86 L215.72,225.69 L216.04,226.53 L216.36,227.37 L216.69,228.22 L217.01,229.07 L217.33,229.92 L217.65,230.77 L217.97,231.63 L218.29,232.48 L218.62,233.34 L218.94,234.21 L219.26,235.07 L219.58,235.94 L219.90,236.81 L220.22,237.69 L220.55,238.56 L220.87,239.44 L221.19,240.32 L221.51,241.20 L221.83,242.09 L222.15,242.97 L222.48,243.86 L222.80,244.75 L223.12,245.65 L223.44,246.54 L223.76,247.44 L224.08,248.34 L224.41,249.24 L224.73,250.14 L225.05,251.05 L225.37,251.96 L225.69,252.87 L226.01,253.78 L226.34,254.69 L226.66,255.60 L226.98,256.52 L227.30,257.43 L227.62,258.35 L227.94,259.27 L228.27,260.19 L228.59,261.11 L228.91,262.04 L229.23,262.96 L229.55,263.89 L229.87,264.81 L230.20,265.74 L230.52,266.67 L230.84,267.60 L234.06,276.98 L237.27,286.48 L240.49,296.09 L243.71,305.81 L246.93,315.64 L250.14,325.55 L253.36,335.56 L256.58,345.63 L259.79,355.77 L263.01,365.96 L266.23,376.20 L269.44,386.46 L272.66,396.73 L275.88,407.01 L279.09,417.28 L282.31,427.52 L285.53,437.73 L288.75,447.89 L291.96,457.99 L295.18,468.01 L298.40,477.96 L301.61,487.81 L304.83,497.56 L308.05,507.21 L311.26,516.74 L314.48,526.15 L317.70,535.43 L320.92,544.59 L324.13,553.61 L327.35,562.49 L330.57,571.24 L333.78,579.84 L337.00,588.31 L340.22,596.63 L343.44,604.82 L346.65,612.86 L349.87,620.77 L353.09,628.54 L356.30,636.17 L359.52,643.67 L362.74,651.02 L365.95,658.22 L369.17,665.27 L372.39,672.16 L375.61,678.90 L378.82,685.48 L382.04,691.90 L385.26,698.16 L388.47,704.27 L391.69,710.23 L394.91,716.03 L398.12,721.68 L401.34,727.19 L404.56,732.56 L407.77,737.78 L410.99,742.87 L414.21,747.82 L417.43,752.65 L420.64,757.35 L423.86,761.92 L427.08,766.37 L430.29,770.71 L433.51,774.93 L436.73,779.04 L439.94,783.05 L443.16,786.95 L446.38,790.75 L449.60,794.44 L452.81,798.05 L456.03,801.57 L459.25,805.00 L462.46,808.34 L465.68,811.61 L468.90,814.81 L472.11,817.92 L475.33,820.97 L478.55,823.95 L481.77,826.86 L484.98,829.71 L488.20,832.49 L491.42,835.21 L494.63,837.87 L497.85,840.47 L501.07,843.02 L504.29,845.51 L507.50,847.95 L510.72,850.33 L513.94,852.66 L517.15,854.94 L520.37,857.17 L523.59,859.35 L526.80,861.48 L530.02,863.56 L533.24,865.59 L536.46,867.58 L539.67,869.53 L542.89,871.43 L546.11,873.28 L549.32,875.09 L552.54,876.86 L555.76,878.58 L558.97,880.26 L562.19,881.90 L565.41,883.50 L568.62,885.06 L571.84,886.57 L575.06,888.05 L578.28,889.49 L581.49,890.89 L584.71,892.26 L587.93,893.59 L591.14,894.89 L594.36,896.16 L597.58,897.39 L600.80,898.59 L604.01,899.76 L607.23,900.91 L610.45,902.02 L613.66,903.11 L616.88,904.16 L620.10,905.20 L623.31,906.20 L626.53,907.18 L629.75,908.14 L632.96,909.08 L636.18,909.99 L639.40,910.87 L642.62,911.74 L645.83,912.59 L649.05,913.41 L652.27,914.21 L655.48,915.00 L658.70,915.77 L661.92,916.51 L665.13,917.24 L668.35,917.96 L671.57,918.65 L674.79,919.33 L678.00,920.00 L681.22,920.65 L684.44,921.28 L687.65,921.90 L690.87,922.51 L694.09,923.10 L697.30,923.68 L700.52,924.25 L703.74,924.80 L706.96,925.35 L710.17,925.88 L713.39,926.40 L716.61,926.91 L719.82,927.41 L723.04,927.91 L726.26,928.39 L729.48,928.86 L732.69,929.33 L735.91,929.79 L739.13,930.24 L742.34,930.68 L745.56,931.12 L748.78,931.55 L751.99,931.98 L755.21,932.40 L758.43,932.81 L761.64,933.22 L764.86,933.63 L768.08,934.03 L771.30,934.42 L774.51,934.82 L777.73,935.21 L780.95,935.60 L784.16,935.98 L787.38,936.36 L790.60,936.73 L793.81,937.11 L797.03,937.47 L800.25,937.84 L803.47,938.20 L806.68,938.56 L809.90,938.91 L813.12,939.26 L816.33,939.61 L819.55,939.96 L822.77,940.30 L825.99,940.63 L829.20,940.97 L832.42,941.30 L835.64,941.63 L838.85,941.95 L842.07,942.27 L845.29,942.59 L848.50,942.91 L851.72,943.22 L854.94,943.53 L858.15,943.83 L861.37,944.14 L864.59,944.44 L867.81,944.73 L871.02,945.03 L874.24,945.32 L877.46,945.61 L880.67,945.89 L883.89,946.17 L887.11,946.45 L890.32,946.73 L893.54,947.00 L896.76,947.28 L899.98,947.55 L903.19,947.81 L906.41,948.07 L909.63,948.34 L912.84,948.59 L916.06,948.85 L919.28,949.10 L922.50,949.35 L925.71,949.60 L928.93,949.85 L932.15,950.09 L935.36,950.33 L938.58,950.57 L941.80,950.81 L945.01,951.04 L948.23,951.27 L951.45,951.50 L954.67,951.73 L957.88,951.96 L961.10,952.18 L964.32,952.40 L967.53,952.62 L970.75,952.84 L973.97,953.05 L977.18,953.27 L980.40,953.48 L983.62,953.69 L986.84,953.90 L990.05,954.10 L993.27,954.30 L996.49,954.51 L999.70,954.70 L1002.92,954.90 L1006.14,955.10 L1009.35,955.29 L1012.57,955.48 L1015.79,955.67 L1019.01,955.86 L1022.22,956.05 L1025.44,956.23 L1028.66,956.41 L1031.87,956.59 L1035.09,956.77 L1038.31,956.95 L1041.52,957.12 L1044.74,957.30 L1047.96,957.47 L1051.18,957.64 L1054.39,957.81 L1057.61,957.97 L1060.83,958.14 L1064.04,958.30 L1067.26,958.46 L1070.48,958.62 L1073.69,958.77 L1076.91,958.93 L1080.13,959.08 L1083.35,959.24 L1086.56,959.39 L1089.78,959.53 L1093.00,959.68 L1096.21,959.83 L1099.43,959.97 L1102.65,960.11 L1105.86,960.25 L1109.08,960.39 L1112.30,960.53 L1115.51,960.66 L1118.73,960.80 L1121.95,960.93 L1125.17,961.06 L1128.38,961.19 L1131.60,961.32 L1134.82,961.44 L1138.03,961.57 L1141.25,961.69 L1144.47,961.81 L1147.68,961.93 L1150.90,962.05 L1154.12,962.16 L1157.34,962.28 L1160.55,962.39 L1163.77,962.50 L1166.99,962.61 L1170.20,962.72 L1173.42,962.83 L1176.64,962.94 L1179.86,963.04 L1183.07,963.14 L1186.29,963.24 L1189.51,963.34 L1192.72,963.44 L1195.94,963.54 L1199.16,963.64 L1202.37,963.73 L1205.59,963.82 L1208.81,963.92 L1212.03,964.01 L1215.24,964.10 L1218.46,964.18 L1221.68,964.27 L1224.89,964.35 L1228.11,964.44 L1231.33,964.52 L1234.54,964.60 L1237.76,964.68 L1240.98,964.76 L1244.19,964.84 L1247.41,964.91 L1250.63,964.99 L1253.85,965.06 L1257.06,965.13 L1260.28,965.20 L1263.50,965.27 L1266.71,965.34 L1269.93,965.40 L1273.15,965.47 L1276.37,965.53 L1279.58,965.60 L1282.80,965.66 L1286.02,965.72 L1289.23,965.78 L1292.45,965.84 L1295.67,965.90 L1298.88,965.95 L1302.10,966.01 L1305.32,966.06 L1308.54,966.11 L1311.75,966.16 L1314.97,966.21 L1318.19,966.26 L1321.40,966.31 L1324.62,966.36 L1327.84,966.40 L1331.05,966.45 L1334.27,966.49 L1337.49,966.54 L1340.71,966.58 L1343.92,966.62 L1347.14,966.66 L1350.36,966.70 L1353.57,966.73 L1356.79,966.77 L1360.01,966.80 L1363.22,966.84 L1366.44,966.87 L1369.66,966.90 L1372.88,966.94 L1376.09,966.97 L1379.31,966.99 L1382.53,967.02 L1385.74,967.05 L1388.96,967.08 L1392.18,967.10 L1395.39,967.13 L1398.61,967.15 L1401.83,967.17 L1405.05,967.19 L1408.26,967.22 L1411.48,967.24 L1414.70,967.25 L1417.91,967.27 L1421.13,967.29 L1424.35,967.31 L1427.56,967.32 L1430.78,967.34 L1434.00,967.35 L1437.21,967.36 L1440.43,967.38 L1443.65,967.39 L1446.87,967.40 L1450.08,967.41 L1453.30,967.42" stroke="#EDB120"/>
<path d="M166.5,119.3 H1453.3" stroke="#7E2F8E"/>
</g>
<rect x="1092.7" y="137.4" width="348.89999999999986" height="360.9" fill="#fff" stroke="#262626" stroke-width="1.3"/>
<path d="M1104.8,158.40H1194" stroke="#0072BD" stroke-width="5.0" fill="none"/>
<path d="M1104.8,190.36H1194" stroke="#D95319" stroke-width="5.0" fill="none"/>
<path d="M1104.8,222.32H1194" stroke="#EDB120" stroke-width="5.0" fill="none"/>
<path d="M1104.8,254.28H1194" stroke="#7E2F8E" stroke-width="5.0" fill="none"/>
<path d="M1104.8,286.24H1194" stroke="#77AC30" stroke-width="5.0" fill="none"/>
<path d="M1104.8,318.20H1194" stroke="#4DBEEE" stroke-width="5.0" fill="none"/>
<path d="M1104.8,350.16H1194" stroke="#A2142F" stroke-width="5.0" fill="none"/>
<path d="M1104.8,382.12H1194" stroke="#0072BD" stroke-width="5.0" fill="none"/>
<path d="M1104.8,414.08H1194" stroke="#D95319" stroke-width="5.0" fill="none"/>
<path d="M1104.8,446.04H1194" stroke="#EDB120" stroke-width="5.0" fill="none"/>
<path d="M1104.8,478.00H1194" stroke="#7E2F8E" stroke-width="5.0" fill="none"/>
<text stroke="#000" stroke-width="1.235" transform="matrix(0.26653 0 0 0.24286 1201.67 168.70)" font-size="100">Cooperativity = 1</text>
<text stroke="#000" stroke-width="1.235" transform="matrix(0.26653 0 0 0.24286 1201.67 200.66)" font-size="100">Cooperativity = 0.9</text>
<text stroke="#000" stroke-width="1.235" transform="matrix(0.26653 0 0 0.24286 1201.67 232.62)" font-size="100">Cooperativity = 0.8</text>
<text stroke="#000" stroke-width="1.235" transform="matrix(0.26653 0 0 0.24286 1201.67 264.58)" font-size="100">Cooperativity = 0.7</text>
<text stroke="#000" stroke-width="1.235" transform="matrix(0.26653 0 0 0.24286 1201.67 296.54)" font-size="100">Cooperativity = 0.6</text>
<text stroke="#000" stroke-width="1.235" transform="matrix(0.26653 0 0 0.24286 1201.67 328.50)" font-size="100">Cooperativity = 0.5</text>
<text stroke="#000" stroke-width="1.235" transform="matrix(0.26653 0 0 0.24286 1201.67 360.46)" font-size="100">Cooperativity = 0.4</text>
<text stroke="#000" stroke-width="1.235" transform="matrix(0.26653 0 0 0.24286 1201.67 392.42)" font-size="100">Cooperativity = 0.3</text>
<text stroke="#000" stroke-width="1.235" transform="matrix(0.26653 0 0 0.24286 1201.67 424.38)" font-size="100">Cooperativity = 0.2</text>
<text stroke="#000" stroke-width="1.235" transform="matrix(0.26653 0 0 0.24286 1201.67 456.34)" font-size="100">Cooperativity = 0.1</text>
<text stroke="#000" stroke-width="1.235" transform="matrix(0.26653 0 0 0.24286 1201.67 488.30)" font-size="100">Cooperativity = 0</text>
<text stroke="#000" stroke-width="1.050" transform="matrix(0.29783 0 0 0.28571 136.51 1003.80)" font-size="100">0</text>
<text stroke="#000" stroke-width="1.050" transform="matrix(0.29783 0 0 0.28571 86.78 897.89)" font-size="100">2000</text>
<text stroke="#000" stroke-width="1.050" transform="matrix(0.29783 0 0 0.28571 86.78 791.98)" font-size="100">4000</text>
<text stroke="#000" stroke-width="1.050" transform="matrix(0.29783 0 0 0.28571 86.78 686.07)" font-size="100">6000</text>
<text stroke="#000" stroke-width="1.050" transform="matrix(0.29783 0 0 0.28571 86.78 580.16)" font-size="100">8000</text>
<text stroke="#000" stroke-width="1.050" transform="matrix(0.29783 0 0 0.28571 70.25 474.24)" font-size="100">10000</text>
<text stroke="#000" stroke-width="1.050" transform="matrix(0.29783 0 0 0.28571 70.25 368.33)" font-size="100">12000</text>
<text stroke="#000" stroke-width="1.050" transform="matrix(0.29783 0 0 0.28571 70.25 262.42)" font-size="100">14000</text>
<text stroke="#000" stroke-width="1.050" transform="matrix(0.29783 0 0 0.28571 70.25 156.51)" font-size="100">16000</text>
<text stroke="#000" stroke-width="1.050" transform="matrix(0.29783 0 0 0.28571 70.25 50.60)" font-size="100">18000</text>
<text stroke="#000" stroke-width="1.050" transform="matrix(0.29783 0 0 0.28571 166.50 1033.30)" font-size="100" text-anchor="middle">0</text>
<text stroke="#000" stroke-width="1.050" transform="matrix(0.29783 0 0 0.28571 295.18 1033.30)" font-size="100" text-anchor="middle">0.1</text>
<text stroke="#000" stroke-width="1.050" transform="matrix(0.29783 0 0 0.28571 423.86 1033.30)" font-size="100" text-anchor="middle">0.2</text>
<text stroke="#000" stroke-width="1.050" transform="matrix(0.29783 0 0 0.28571 552.54 1033.30)" font-size="100" text-anchor="middle">0.3</text>
<text stroke="#000" stroke-width="1.050" transform="matrix(0.29783 0 0 0.28571 681.22 1033.30)" font-size="100" text-anchor="middle">0.4</text>
<text stroke="#000" stroke-width="1.050" transform="matrix(0.29783 0 0 0.28571 809.90 1033.30)" font-size="100" text-anchor="middle">0.5</text>
<text stroke="#000" stroke-width="1.050" transform="matrix(0.29783 0 0 0.28571 938.58 1033.30)" font-size="100" text-anchor="middle">0.6</text>
<text stroke="#000" stroke-width="1.050" transform="matrix(0.29783 0 0 0.28571 1067.26 1033.30)" font-size="100" text-anchor="middle">0.7</text>
<text stroke="#000" stroke-width="1.050" transform="matrix(0.29783 0 0 0.28571 1195.94 1033.30)" font-size="100" text-anchor="middle">0.8</text>
<text stroke="#000" stroke-width="1.050" transform="matrix(0.29783 0 0 0.28571 1324.62 1033.30)" font-size="100" text-anchor="middle">0.9</text>
<text stroke="#000" stroke-width="1.050" transform="matrix(0.29783 0 0 0.28571 1453.30 1033.30)" font-size="100" text-anchor="middle">1</text>
<text stroke="#000" stroke-width="1.621" transform="matrix(0.44179 0 0 0.43188 13.90 39.80)" font-size="100" font-weight="bold">A</text>
<text stroke="#000" stroke-width="2.176" transform="matrix(0.32643 0 0 0.32174 486.08 28.60)" font-size="100" font-weight="bold">Fatality count against opinion spread rate</text>
<text stroke="#000" stroke-width="0.972" transform="matrix(0.32693 0 0 0.30857 664.03 1073.00)" font-size="100" font-weight="normal">Opinion spread rate</text>
<text stroke="#000" stroke-width="0.933" transform="matrix(0 -0.30171 0.32138 0 53.30 607.41)" font-size="100" fill="#000">Fatality count</text>
<path d="M1374.8,1066.2L1388.5,1078.5M1374.8,1078.5L1388.5,1066.2" stroke="#1a1a1a" stroke-width="1.3" fill="none"/>
<text stroke="#000" stroke-width="1.087" transform="matrix(0.29400 0 0 0.27606 1394.10 1080.02)" font-size="100" font-weight="normal">10</text>
<text stroke="#000" stroke-width="1.331" transform="matrix(0.24625 0 0 0.22535 1428.89 1066.47)" font-size="100" font-weight="normal">-9</text>
<g stroke="#303030" stroke-width="1.8" fill="none" stroke-linecap="square">
<rect x="110.2" y="1217.8" width="1386.6" height="892.2"/>
<path d="M110.20,2110.0V2098.30M110.20,1217.8V1229.50M248.86,2110.0V2098.30M248.86,1217.8V1229.50M387.52,2110.0V2098.30M387.52,1217.8V1229.50M526.18,2110.0V2098.30M526.18,1217.8V1229.50M664.84,2110.0V2098.30M664.84,1217.8V1229.50M803.50,2110.0V2098.30M803.50,1217.8V1229.50M942.16,2110.0V2098.30M942.16,1217.8V1229.50M1080.82,2110.0V2098.30M1080.82,1217.8V1229.50M1219.48,2110.0V2098.30M1219.48,1217.8V1229.50M1358.14,2110.0V2098.30M1358.14,1217.8V1229.50M1496.80,2110.0V2098.30M1496.80,1217.8V1229.50M110.2,2110.00H124.70M1496.8,2110.00H1482.30M110.2,1931.56H124.70M1496.8,1931.56H1482.30M110.2,1753.12H124.70M1496.8,1753.12H1482.30M110.2,1574.68H124.70M1496.8,1574.68H1482.30M110.2,1396.24H124.70M1496.8,1396.24H1482.30M110.2,1217.80H124.70M1496.8,1217.80H1482.30" stroke-linecap="butt"/>
</g>
<g fill="none" stroke-width="5.0" stroke-linejoin="round" stroke-linecap="butt">
<path d="M110.20,2105.26 L110.89,2105.26 L111.59,2105.26 L112.28,2105.26 L112.97,2105.27 L113.67,2105.27 L114.36,2105.27 L115.05,2105.27 L115.75,2105.27 L116.44,2105.27 L117.13,2105.27 L117.83,2105.28 L118.52,2105.28 L119.21,2105.28 L119.91,2105.28 L120.60,2105.28 L121.29,2105.28 L121.99,2105.28 L122.68,2105.29 L123.37,2105.29 L124.07,2105.29 L124.76,2105.29 L125.45,2105.29 L126.15,2105.29 L126.84,2105.29 L127.53,2105.30 L128.23,2105.30 L128.92,2105.30 L129.61,2105.30 L130.31,2105.30 L131.00,2105.30 L131.69,2105.30 L132.39,2105.30 L133.08,2105.31 L133.77,2105.31 L134.47,2105.31 L135.16,2105.31 L135.85,2105.31 L136.55,2105.31 L137.24,2105.31 L137.93,2105.31 L139.32,2105.32 L140.71,2105.32 L142.09,2105.32 L143.48,2105.32 L144.87,2105.33 L146.25,2105.33 L147.64,2105.33 L149.02,2105.33 L150.41,2105.33 L151.80,2105.34 L153.18,2105.34 L154.57,2105.34 L155.96,2105.34 L157.34,2105.35 L158.73,2105.35 L160.12,2105.35 L161.50,2105.35 L162.89,2105.35 L164.28,2105.36 L165.66,2105.36 L167.05,2105.36 L168.44,2105.36 L169.82,2105.36 L171.21,2105.37 L172.60,2105.37 L173.98,2105.37 L175.37,2105.37 L176.76,2105.37 L178.14,2105.37 L179.53,2105.38 L180.92,2105.38 L182.30,2105.38 L183.69,2105.38 L185.08,2105.38 L186.46,2105.38 L187.85,2105.39 L189.24,2105.39 L190.62,2105.39 L192.01,2105.39 L193.40,2105.39 L194.78,2105.39 L196.17,2105.40 L197.56,2105.40 L198.94,2105.40 L200.33,2105.40 L201.72,2105.40 L203.10,2105.40 L204.49,2105.41 L205.88,2105.41 L207.26,2105.41 L208.65,2105.41 L210.04,2105.41 L211.42,2105.41 L212.81,2105.41 L214.19,2105.42 L215.58,2105.42 L216.97,2105.42 L218.35,2105.42 L219.74,2105.42 L221.13,2105.42 L222.51,2105.42 L223.90,2105.43 L225.29,2105.43 L226.67,2105.43 L228.06,2105.43 L229.45,2105.43 L230.83,2105.43 L232.22,2105.43 L233.61,2105.44 L234.99,2105.44 L236.38,2105.44 L237.77,2105.44 L239.15,2105.44 L240.54,2105.44 L241.93,2105.44 L243.31,2105.44 L244.70,2105.45 L246.09,2105.45 L247.47,2105.45 L248.86,2105.45 L250.25,2105.45 L251.63,2105.45 L253.02,2105.45 L254.41,2105.45 L255.79,2105.45 L257.18,2105.46 L258.57,2105.46 L259.95,2105.46 L261.34,2105.46 L262.73,2105.46 L264.11,2105.46 L265.50,2105.46 L266.89,2105.46 L268.27,2105.46 L269.66,2105.47 L271.05,2105.47 L272.43,2105.47 L273.82,2105.47 L275.21,2105.47 L276.59,2105.47 L277.98,2105.47 L279.37,2105.47 L280.75,2105.47 L282.14,2105.47 L283.52,2105.48 L284.91,2105.48 L286.30,2105.48 L287.68,2105.48 L289.07,2105.48 L290.46,2105.48 L291.84,2105.48 L293.23,2105.48 L294.62,2105.48 L296.00,2105.48 L297.39,2105.49 L298.78,2105.49 L300.16,2105.49 L301.55,2105.49 L302.94,2105.49 L304.32,2105.49 L305.71,2105.49 L307.10,2105.49 L308.48,2105.49 L309.87,2105.49 L311.26,2105.49 L312.64,2105.49 L314.03,2105.50 L315.42,2105.50 L316.80,2105.50 L318.19,2105.50 L319.58,2105.50 L320.96,2105.50 L322.35,2105.50 L323.74,2105.50 L325.12,2105.50 L326.51,2105.50 L327.90,2105.50 L329.28,2105.50 L330.67,2105.51 L332.06,2105.51 L333.44,2105.51 L334.83,2105.51 L336.22,2105.51 L337.60,2105.51 L338.99,2105.51 L340.38,2105.51 L341.76,2105.51 L343.15,2105.51 L344.54,2105.51 L345.92,2105.51 L347.31,2105.51 L348.70,2105.52 L350.08,2105.52 L351.47,2105.52 L352.85,2105.52 L354.24,2105.52 L355.63,2105.52 L357.01,2105.52 L358.40,2105.52 L359.79,2105.52 L361.17,2105.52 L362.56,2105.52 L363.95,2105.52 L365.33,2105.52 L366.72,2105.52 L368.11,2105.53 L369.49,2105.53 L370.88,2105.53 L372.27,2105.53 L373.65,2105.53 L375.04,2105.53 L376.43,2105.53 L377.81,2105.53 L379.20,2105.53 L380.59,2105.53 L381.97,2105.53 L383.36,2105.53 L384.75,2105.53 L386.13,2105.53 L387.52,2105.53 L394.45,2105.54 L401.39,2105.54 L408.32,2105.54 L415.25,2105.55 L422.19,2105.55 L429.12,2105.55 L436.05,2105.55 L442.98,2105.56 L449.92,2105.56 L456.85,2105.56 L463.78,2105.56 L470.72,2105.57 L477.65,2105.57 L484.58,2105.57 L491.51,2105.57 L498.45,2105.58 L505.38,2105.58 L512.31,2105.58 L519.25,2105.58 L526.18,2105.58 L533.11,2105.59 L540.05,2105.59 L546.98,2105.59 L553.91,2105.59 L560.85,2105.59 L567.78,2105.59 L574.71,2105.60 L581.64,2105.60 L588.58,2105.60 L595.51,2105.60 L602.44,2105.60 L609.38,2105.60 L616.31,2105.61 L623.24,2105.61 L630.17,2105.61 L637.11,2105.61 L644.04,2105.61 L650.97,2105.61 L657.91,2105.61 L664.84,2105.61 L671.77,2105.62 L678.71,2105.62 L685.64,2105.62 L692.57,2105.62 L699.51,2105.62 L706.44,2105.62 L713.37,2105.62 L720.30,2105.62 L727.24,2105.63 L734.17,2105.63 L741.10,2105.63 L748.04,2105.63 L754.97,2105.63 L761.90,2105.63 L768.84,2105.63 L775.77,2105.63 L782.70,2105.63 L789.63,2105.64 L796.57,2105.64 L803.50,2105.64 L810.43,2105.64 L817.37,2105.64 L824.30,2105.64 L831.23,2105.64 L838.17,2105.64 L845.10,2105.64 L852.03,2105.64 L858.96,2105.64 L865.90,2105.65 L872.83,2105.65 L879.76,2105.65 L886.70,2105.65 L893.63,2105.65 L900.56,2105.65 L907.49,2105.65 L914.43,2105.65 L921.36,2105.65 L928.29,2105.65 L935.23,2105.65 L942.16,2105.65 L949.09,2105.65 L956.03,2105.65 L962.96,2105.66 L969.89,2105.66 L976.83,2105.66 L983.76,2105.66 L990.69,2105.66 L997.62,2105.66 L1004.56,2105.66 L1011.49,2105.66 L1018.42,2105.66 L1025.36,2105.66 L1032.29,2105.66 L1039.22,2105.66 L1046.15,2105.66 L1053.09,2105.66 L1060.02,2105.66 L1066.95,2105.66 L1073.89,2105.67 L1080.82,2105.67 L1087.75,2105.67 L1094.69,2105.67 L1101.62,2105.67 L1108.55,2105.67 L1115.49,2105.67 L1122.42,2105.67 L1129.35,2105.67 L1136.28,2105.67 L1143.22,2105.67 L1150.15,2105.67 L1157.08,2105.67 L1164.02,2105.67 L1170.95,2105.67 L1177.88,2105.67 L1184.82,2105.67 L1191.75,2105.67 L1198.68,2105.67 L1205.61,2105.68 L1212.55,2105.68 L1219.48,2105.68 L1226.41,2105.68 L1233.35,2105.68 L1240.28,2105.68 L1247.21,2105.68 L1254.14,2105.68 L1261.08,2105.68 L1268.01,2105.68 L1274.94,2105.68 L1281.88,2105.68 L1288.81,2105.68 L1295.74,2105.68 L1302.68,2105.68 L1309.61,2105.68 L1316.54,2105.68 L1323.47,2105.68 L1330.41,2105.68 L1337.34,2105.68 L1344.27,2105.68 L1351.21,2105.68 L1358.14,2105.68 L1365.07,2105.68 L1372.01,2105.68 L1378.94,2105.69 L1385.87,2105.69 L1392.81,2105.69 L1399.74,2105.69 L1406.67,2105.69 L1413.60,2105.69 L1420.54,2105.69 L1427.47,2105.69 L1434.40,2105.69 L1441.34,2105.69 L1448.27,2105.69 L1455.20,2105.69 L1462.13,2105.69 L1469.07,2105.69 L1476.00,2105.69 L1482.93,2105.69 L1489.87,2105.69 L1496.80,2105.69" stroke="#0072BD"/>
<path d="M110.20,2101.90 L110.89,2101.91 L111.59,2101.91 L112.28,2101.92 L112.97,2101.93 L113.67,2101.93 L114.36,2101.94 L115.05,2101.95 L115.75,2101.96 L116.44,2101.96 L117.13,2101.97 L117.83,2101.98 L118.52,2101.98 L119.21,2101.99 L119.91,2102.00 L120.60,2102.00 L121.29,2102.01 L121.99,2102.02 L122.68,2102.02 L123.37,2102.03 L124.07,2102.04 L124.76,2102.04 L125.45,2102.05 L126.15,2102.05 L126.84,2102.06 L127.53,2102.07 L128.23,2102.07 L128.92,2102.08 L129.61,2102.09 L130.31,2102.09 L131.00,2102.10 L131.69,2102.10 L132.39,2102.11 L133.08,2102.12 L133.77,2102.12 L134.47,2102.13 L135.16,2102.13 L135.85,2102.14 L136.55,2102.15 L137.24,2102.15 L137.93,2102.16 L139.32,2102.17 L140.71,2102.18 L142.09,2102.19 L143.48,2102.20 L144.87,2102.21 L146.25,2102.22 L147.64,2102.24 L149.02,2102.25 L150.41,2102.26 L151.80,2102.27 L153.18,2102.28 L154.57,2102.29 L155.96,2102.30 L157.34,2102.31 L158.73,2102.32 L160.12,2102.33 L161.50,2102.34 L162.89,2102.35 L164.28,2102.36 L165.66,2102.37 L167.05,2102.38 L168.44,2102.38 L169.82,2102.39 L171.21,2102.40 L172.60,2102.41 L173.98,2102.42 L175.37,2102.43 L176.76,2102.44 L178.14,2102.45 L179.53,2102.46 L180.92,2102.46 L182.30,2102.47 L183.69,2102.48 L185.08,2102.49 L186.46,2102.50 L187.85,2102.51 L189.24,2102.51 L190.62,2102.52 L192.01,2102.53 L193.40,2102.54 L194.78,2102.55 L196.17,2102.55 L197.56,2102.56 L198.94,2102.57 L200.33,2102.58 L201.72,2102.58 L203.10,2102.59 L204.49,2102.60 L205.88,2102.61 L207.26,2102.61 L208.65,2102.62 L210.04,2102.63 L211.42,2102.63 L212.81,2102.64 L214.19,2102.65 L215.58,2102.65 L216.97,2102.66 L218.35,2102.67 L219.74,2102.68 L221.13,2102.68 L222.51,2102.69 L223.90,2102.69 L225.29,2102.70 L226.67,2102.71 L228.06,2102.71 L229.45,2102.72 L230.83,2102.73 L232.22,2102.73 L233.61,2102.74 L234.99,2102.75 L236.38,2102.75 L237.77,2102.76 L239.15,2102.76 L240.54,2102.77 L241.93,2102.78 L243.31,2102.78 L244.70,2102.79 L246.09,2102.79 L247.47,2102.80 L248.86,2102.80 L250.25,2102.81 L251.63,2102.82 L253.02,2102.82 L254.41,2102.83 L255.79,2102.83 L257.18,2102.84 L258.57,2102.84 L259.95,2102.85 L261.34,2102.85 L262.73,2102.86 L264.11,2102.86 L265.50,2102.87 L266.89,2102.87 L268.27,2102.88 L269.66,2102.88 L271.05,2102.89 L272.43,2102.89 L273.82,2102.90 L275.21,2102.90 L276.59,2102.91 L277.98,2102.91 L279.37,2102.92 L280.75,2102.92 L282.14,2102.93 L283.52,2102.93 L284.91,2102.94 L286.30,2102.94 L287.68,2102.95 L289.07,2102.95 L290.46,2102.96 L291.84,2102.96 L293.23,2102.97 L294.62,2102.97 L296.00,2102.97 L297.39,2102.98 L298.78,2102.98 L300.16,2102.99 L301.55,2102.99 L302.94,2103.00 L304.32,2103.00 L305.71,2103.00 L307.10,2103.01 L308.48,2103.01 L309.87,2103.02 L311.26,2103.02 L312.64,2103.03 L314.03,2103.03 L315.42,2103.03 L316.80,2103.04 L318.19,2103.04 L319.58,2103.05 L320.96,2103.05 L322.35,2103.05 L323.74,2103.06 L325.12,2103.06 L326.51,2103.07 L327.90,2103.07 L329.28,2103.07 L330.67,2103.08 L332.06,2103.08 L333.44,2103.08 L334.83,2103.09 L336.22,2103.09 L337.60,2103.10 L338.99,2103.10 L340.38,2103.10 L341.76,2103.11 L343.15,2103.11 L344.54,2103.11 L345.92,2103.12 L347.31,2103.12 L348.70,2103.12 L350.08,2103.13 L351.47,2103.13 L352.85,2103.13 L354.24,2103.14 L355.63,2103.14 L357.01,2103.15 L358.40,2103.15 L359.79,2103.15 L361.17,2103.16 L362.56,2103.16 L363.95,2103.16 L365.33,2103.17 L366.72,2103.17 L368.11,2103.17 L369.49,2103.17 L370.88,2103.18 L372.27,2103.18 L373.65,2103.18 L375.04,2103.19 L376.43,2103.19 L377.81,2103.19 L379.20,2103.20 L380.59,2103.20 L381.97,2103.20 L383.36,2103.21 L384.75,2103.21 L386.13,2103.21 L387.52,2103.22 L394.45,2103.23 L401.39,2103.24 L408.32,2103.26 L415.25,2103.27 L422.19,2103.29 L429.12,2103.30 L436.05,2103.31 L442.98,2103.32 L449.92,2103.34 L456.85,2103.35 L463.78,2103.36 L470.72,2103.37 L477.65,2103.38 L484.58,2103.39 L491.51,2103.40 L498.45,2103.41 L505.38,2103.42 L512.31,2103.43 L519.25,2103.44 L526.18,2103.45 L533.11,2103.46 L540.05,2103.47 L546.98,2103.48 L553.91,2103.49 L560.85,2103.49 L567.78,2103.50 L574.71,2103.51 L581.64,2103.52 L588.58,2103.53 L595.51,2103.53 L602.44,2103.54 L609.38,2103.55 L616.31,2103.56 L623.24,2103.56 L630.17,2103.57 L637.11,2103.58 L644.04,2103.58 L650.97,2103.59 L657.91,2103.60 L664.84,2103.60 L671.77,2103.61 L678.71,2103.61 L685.64,2103.62 L692.57,2103.63 L699.51,2103.63 L706.44,2103.64 L713.37,2103.64 L720.30,2103.65 L727.24,2103.65 L734.17,2103.66 L741.10,2103.67 L748.04,2103.67 L754.97,2103.68 L761.90,2103.68 L768.84,2103.69 L775.77,2103.69 L782.70,2103.69 L789.63,2103.70 L796.57,2103.70 L803.50,2103.71 L810.43,2103.71 L817.37,2103.72 L824.30,2103.72 L831.23,2103.73 L838.17,2103.73 L845.10,2103.73 L852.03,2103.74 L858.96,2103.74 L865.90,2103.75 L872.83,2103.75 L879.76,2103.75 L886.70,2103.76 L893.63,2103.76 L900.56,2103.77 L907.49,2103.77 L914.43,2103.77 L921.36,2103.78 L928.29,2103.78 L935.23,2103.78 L942.16,2103.79 L949.09,2103.79 L956.03,2103.79 L962.96,2103.80 L969.89,2103.80 L976.83,2103.80 L983.76,2103.81 L990.69,2103.81 L997.62,2103.81 L1004.56,2103.82 L1011.49,2103.82 L1018.42,2103.82 L1025.36,2103.83 L1032.29,2103.83 L1039.22,2103.83 L1046.15,2103.83 L1053.09,2103.84 L1060.02,2103.84 L1066.95,2103.84 L1073.89,2103.85 L1080.82,2103.85 L1087.75,2103.85 L1094.69,2103.85 L1101.62,2103.86 L1108.55,2103.86 L1115.49,2103.86 L1122.42,2103.86 L1129.35,2103.87 L1136.28,2103.87 L1143.22,2103.87 L1150.15,2103.87 L1157.08,2103.88 L1164.02,2103.88 L1170.95,2103.88 L1177.88,2103.88 L1184.82,2103.88 L1191.75,2103.89 L1198.68,2103.89 L1205.61,2103.89 L1212.55,2103.89 L1219.48,2103.90 L1226.41,2103.90 L1233.35,2103.90 L1240.28,2103.90 L1247.21,2103.90 L1254.14,2103.91 L1261.08,2103.91 L1268.01,2103.91 L1274.94,2103.91 L1281.88,2103.91 L1288.81,2103.92 L1295.74,2103.92 L1302.68,2103.92 L1309.61,2103.92 L1316.54,2103.92 L1323.47,2103.93 L1330.41,2103.93 L1337.34,2103.93 L1344.27,2103.93 L1351.21,2103.93 L1358.14,2103.94 L1365.07,2103.94 L1372.01,2103.94 L1378.94,2103.94 L1385.87,2103.94 L1392.81,2103.94 L1399.74,2103.95 L1406.67,2103.95 L1413.60,2103.95 L1420.54,2103.95 L1427.47,2103.95 L1434.40,2103.95 L1441.34,2103.96 L1448.27,2103.96 L1455.20,2103.96 L1462.13,2103.96 L1469.07,2103.96 L1476.00,2103.96 L1482.93,2103.96 L1489.87,2103.97 L1496.80,2103.97" stroke="#D95319"/>
<path d="M110.20,2097.33 L110.89,2097.35 L111.59,2097.36 L112.28,2097.38 L112.97,2097.39 L113.67,2097.41 L114.36,2097.42 L115.05,2097.44 L115.75,2097.45 L116.44,2097.47 L117.13,2097.48 L117.83,2097.50 L118.52,2097.51 L119.21,2097.53 L119.91,2097.54 L120.60,2097.56 L121.29,2097.57 L121.99,2097.59 L122.68,2097.60 L123.37,2097.61 L124.07,2097.63 L124.76,2097.64 L125.45,2097.66 L126.15,2097.67 L126.84,2097.68 L127.53,2097.70 L128.23,2097.71 L128.92,2097.72 L129.61,2097.74 L130.31,2097.75 L131.00,2097.76 L131.69,2097.78 L132.39,2097.79 L133.08,2097.80 L133.77,2097.82 L134.47,2097.83 L135.16,2097.84 L135.85,2097.85 L136.55,2097.87 L137.24,2097.88 L137.93,2097.89 L139.32,2097.92 L140.71,2097.94 L142.09,2097.97 L143.48,2097.99 L144.87,2098.01 L146.25,2098.04 L147.64,2098.06 L149.02,2098.08 L150.41,2098.11 L151.80,2098.13 L153.18,2098.15 L154.57,2098.17 L155.96,2098.20 L157.34,2098.22 L158.73,2098.24 L160.12,2098.26 L161.50,2098.28 L162.89,2098.30 L164.28,2098.32 L165.66,2098.34 L167.05,2098.36 L168.44,2098.38 L169.82,2098.40 L171.21,2098.42 L172.60,2098.44 L173.98,2098.46 L175.37,2098.48 L176.76,2098.50 L178.14,2098.52 L179.53,2098.54 L180.92,2098.56 L182.30,2098.57 L183.69,2098.59 L185.08,2098.61 L186.46,2098.63 L187.85,2098.65 L189.24,2098.66 L190.62,2098.68 L192.01,2098.70 L193.40,2098.72 L194.78,2098.73 L196.17,2098.75 L197.56,2098.77 L198.94,2098.78 L200.33,2098.80 L201.72,2098.81 L203.10,2098.83 L204.49,2098.85 L205.88,2098.86 L207.26,2098.88 L208.65,2098.89 L210.04,2098.91 L211.42,2098.92 L212.81,2098.94 L214.19,2098.95 L215.58,2098.97 L216.97,2098.98 L218.35,2099.00 L219.74,2099.01 L221.13,2099.03 L222.51,2099.04 L223.90,2099.06 L225.29,2099.07 L226.67,2099.08 L228.06,2099.10 L229.45,2099.11 L230.83,2099.12 L232.22,2099.14 L233.61,2099.15 L234.99,2099.16 L236.38,2099.18 L237.77,2099.19 L239.15,2099.20 L240.54,2099.22 L241.93,2099.23 L243.31,2099.24 L244.70,2099.25 L246.09,2099.27 L247.47,2099.28 L248.86,2099.29 L250.25,2099.30 L251.63,2099.32 L253.02,2099.33 L254.41,2099.34 L255.79,2099.35 L257.18,2099.36 L258.57,2099.38 L259.95,2099.39 L261.34,2099.40 L262.73,2099.41 L264.11,2099.42 L265.50,2099.43 L266.89,2099.44 L268.27,2099.46 L269.66,2099.47 L271.05,2099.48 L272.43,2099.49 L273.82,2099.50 L275.21,2099.51 L276.59,2099.52 L277.98,2099.53 L279.37,2099.54 L280.75,2099.55 L282.14,2099.56 L283.52,2099.57 L284.91,2099.58 L286.30,2099.59 L287.68,2099.60 L289.07,2099.61 L290.46,2099.62 L291.84,2099.63 L293.23,2099.64 L294.62,2099.65 L296.00,2099.66 L297.39,2099.67 L298.78,2099.68 L300.16,2099.69 L301.55,2099.70 L302.94,2099.71 L304.32,2099.72 L305.71,2099.73 L307.10,2099.74 L308.48,2099.75 L309.87,2099.75 L311.26,2099.76 L312.64,2099.77 L314.03,2099.78 L315.42,2099.79 L316.80,2099.80 L318.19,2099.81 L319.58,2099.82 L320.96,2099.83 L322.35,2099.83 L323.74,2099.84 L325.12,2099.85 L326.51,2099.86 L327.90,2099.87 L329.28,2099.88 L330.67,2099.88 L332.06,2099.89 L333.44,2099.90 L334.83,2099.91 L336.22,2099.92 L337.60,2099.92 L338.99,2099.93 L340.38,2099.94 L341.76,2099.95 L343.15,2099.96 L344.54,2099.96 L345.92,2099.97 L347.31,2099.98 L348.70,2099.99 L350.08,2099.99 L351.47,2100.00 L352.85,2100.01 L354.24,2100.02 L355.63,2100.02 L357.01,2100.03 L358.40,2100.04 L359.79,2100.05 L361.17,2100.05 L362.56,2100.06 L363.95,2100.07 L365.33,2100.07 L366.72,2100.08 L368.11,2100.09 L369.49,2100.10 L370.88,2100.10 L372.27,2100.11 L373.65,2100.12 L375.04,2100.12 L376.43,2100.13 L377.81,2100.14 L379.20,2100.14 L380.59,2100.15 L381.97,2100.16 L383.36,2100.16 L384.75,2100.17 L386.13,2100.18 L387.52,2100.18 L394.45,2100.22 L401.39,2100.25 L408.32,2100.28 L415.25,2100.31 L422.19,2100.33 L429.12,2100.36 L436.05,2100.39 L442.98,2100.42 L449.92,2100.44 L456.85,2100.47 L463.78,2100.49 L470.72,2100.52 L477.65,2100.54 L484.58,2100.56 L491.51,2100.59 L498.45,2100.61 L505.38,2100.63 L512.31,2100.65 L519.25,2100.67 L526.18,2100.69 L533.11,2100.71 L540.05,2100.73 L546.98,2100.75 L553.91,2100.77 L560.85,2100.79 L567.78,2100.81 L574.71,2100.82 L581.64,2100.84 L588.58,2100.86 L595.51,2100.87 L602.44,2100.89 L609.38,2100.91 L616.31,2100.92 L623.24,2100.94 L630.17,2100.95 L637.11,2100.97 L644.04,2100.98 L650.97,2100.99 L657.91,2101.01 L664.84,2101.02 L671.77,2101.04 L678.71,2101.05 L685.64,2101.06 L692.57,2101.07 L699.51,2101.09 L706.44,2101.10 L713.37,2101.11 L720.30,2101.12 L727.24,2101.14 L734.17,2101.15 L741.10,2101.16 L748.04,2101.17 L754.97,2101.18 L761.90,2101.19 L768.84,2101.20 L775.77,2101.21 L782.70,2101.22 L789.63,2101.23 L796.57,2101.24 L803.50,2101.25 L810.43,2101.26 L817.37,2101.27 L824.30,2101.28 L831.23,2101.29 L838.17,2101.30 L845.10,2101.31 L852.03,2101.32 L858.96,2101.33 L865.90,2101.34 L872.83,2101.34 L879.76,2101.35 L886.70,2101.36 L893.63,2101.37 L900.56,2101.38 L907.49,2101.38 L914.43,2101.39 L921.36,2101.40 L928.29,2101.41 L935.23,2101.42 L942.16,2101.42 L949.09,2101.43 L956.03,2101.44 L962.96,2101.44 L969.89,2101.45 L976.83,2101.46 L983.76,2101.47 L990.69,2101.47 L997.62,2101.48 L1004.56,2101.49 L1011.49,2101.49 L1018.42,2101.50 L1025.36,2101.51 L1032.29,2101.51 L1039.22,2101.52 L1046.15,2101.52 L1053.09,2101.53 L1060.02,2101.54 L1066.95,2101.54 L1073.89,2101.55 L1080.82,2101.55 L1087.75,2101.56 L1094.69,2101.57 L1101.62,2101.57 L1108.55,2101.58 L1115.49,2101.58 L1122.42,2101.59 L1129.35,2101.59 L1136.28,2101.60 L1143.22,2101.60 L1150.15,2101.61 L1157.08,2101.61 L1164.02,2101.62 L1170.95,2101.62 L1177.88,2101.63 L1184.82,2101.63 L1191.75,2101.64 L1198.68,2101.64 L1205.61,2101.65 L1212.55,2101.65 L1219.48,2101.66 L1226.41,2101.66 L1233.35,2101.67 L1240.28,2101.67 L1247.21,2101.68 L1254.14,2101.68 L1261.08,2101.69 L1268.01,2101.69 L1274.94,2101.69 L1281.88,2101.70 L1288.81,2101.70 L1295.74,2101.71 L1302.68,2101.71 L1309.61,2101.72 L1316.54,2101.72 L1323.47,2101.72 L1330.41,2101.73 L1337.34,2101.73 L1344.27,2101.74 L1351.21,2101.74 L1358.14,2101.74 L1365.07,2101.75 L1372.01,2101.75 L1378.94,2101.75 L1385.87,2101.76 L1392.81,2101.76 L1399.74,2101.77 L1406.67,2101.77 L1413.60,2101.77 L1420.54,2101.78 L1427.47,2101.78 L1434.40,2101.78 L1441.34,2101.79 L1448.27,2101.79 L1455.20,2101.79 L1462.13,2101.80 L1469.07,2101.80 L1476.00,2101.80 L1482.93,2101.81 L1489.87,2101.81 L1496.80,2101.81" stroke="#EDB120"/>
<path d="M110.20,2066.76 L124.07,2073.27 L137.93,2078.07 L151.80,2081.66 L165.66,2084.42 L179.53,2086.63 L193.40,2088.45 L207.26,2089.95 L221.13,2091.15 L234.99,2092.10 L248.86,2092.83 L262.73,2093.37 L276.59,2093.76 L290.46,2094.03 L304.32,2094.22 L318.19,2094.35 L332.06,2094.46 L345.92,2094.57 L359.79,2094.68 L373.65,2094.79 L387.52,2094.90 L401.39,2095.01 L415.25,2095.13 L429.12,2095.24 L442.98,2095.36 L456.85,2095.48 L470.72,2095.60 L484.58,2095.72 L498.45,2095.84 L512.31,2095.97 L526.18,2096.09 L540.05,2096.22 L553.91,2096.34 L567.78,2096.47 L581.64,2096.59 L595.51,2096.72 L609.38,2096.85 L623.24,2096.97 L637.11,2097.10 L650.97,2097.23 L664.84,2097.36 L678.71,2097.48 L692.57,2097.61 L706.44,2097.74 L720.30,2097.86 L734.17,2097.99 L748.04,2098.12 L761.90,2098.24 L775.77,2098.37 L789.63,2098.49 L803.50,2098.61 L817.37,2098.74 L831.23,2098.86 L845.10,2098.98 L858.96,2099.10 L872.83,2099.21 L886.70,2099.33 L900.56,2099.45 L914.43,2099.56 L928.29,2099.67 L942.16,2099.78 L956.03,2099.89 L969.89,2100.00 L983.76,2100.10 L997.62,2100.21 L1011.49,2100.31 L1025.36,2100.41 L1039.22,2100.50 L1053.09,2100.60 L1066.95,2100.69 L1080.82,2100.78 L1094.69,2100.87 L1108.55,2100.95 L1122.42,2101.04 L1136.28,2101.11 L1150.15,2101.19 L1164.02,2101.26 L1177.88,2101.34 L1191.75,2101.40 L1205.61,2101.47 L1219.48,2101.53 L1233.35,2101.59 L1247.21,2101.64 L1261.08,2101.69 L1274.94,2101.74 L1288.81,2101.78 L1302.68,2101.82 L1316.54,2101.86 L1330.41,2101.89 L1344.27,2101.92 L1358.14,2101.94 L1372.01,2101.96 L1385.87,2101.98 L1399.74,2101.99 L1413.60,2101.99 L1427.47,2102.00 L1441.34,2102.00 L1455.20,2102.00 L1469.07,2102.00 L1482.93,2102.00 L1496.80,2102.00" stroke="#7E2F8E"/>
<path d="M110.20,1891.86 L124.07,1963.68 L137.93,2003.62 L151.80,2025.16 L165.66,2039.28 L179.53,2049.34 L193.40,2056.78 L207.26,2062.55 L221.13,2067.16 L234.99,2070.93 L248.86,2074.08 L262.73,2076.76 L276.59,2079.07 L290.46,2081.04 L304.32,2082.70 L318.19,2084.09 L332.06,2085.23 L345.92,2086.15 L359.79,2086.89 L373.65,2087.48 L387.52,2087.93 L401.39,2088.28 L415.25,2088.56 L429.12,2088.80 L442.98,2089.03 L456.85,2089.25 L470.72,2089.49 L484.58,2089.73 L498.45,2089.98 L512.31,2090.23 L526.18,2090.48 L540.05,2090.74 L553.91,2091.00 L567.78,2091.26 L581.64,2091.52 L595.51,2091.78 L609.38,2092.05 L623.24,2092.31 L637.11,2092.57 L650.97,2092.83 L664.84,2093.09 L678.71,2093.34 L692.57,2093.59 L706.44,2093.84 L720.30,2094.08 L734.17,2094.31 L748.04,2094.54 L761.90,2094.76 L775.77,2094.97 L789.63,2095.17 L803.50,2095.37 L817.37,2095.56 L831.23,2095.74 L845.10,2095.91 L858.96,2096.08 L872.83,2096.24 L886.70,2096.39 L900.56,2096.54 L914.43,2096.69 L928.29,2096.82 L942.16,2096.95 L956.03,2097.08 L969.89,2097.20 L983.76,2097.32 L997.62,2097.43 L1011.49,2097.54 L1025.36,2097.64 L1039.22,2097.74 L1053.09,2097.84 L1066.95,2097.93 L1080.82,2098.02 L1094.69,2098.11 L1108.55,2098.20 L1122.42,2098.28 L1136.28,2098.36 L1150.15,2098.44 L1164.02,2098.52 L1177.88,2098.60 L1191.75,2098.68 L1205.61,2098.76 L1219.48,2098.83 L1233.35,2098.91 L1247.21,2098.98 L1261.08,2099.06 L1274.94,2099.14 L1288.81,2099.21 L1302.68,2099.29 L1316.54,2099.37 L1330.41,2099.45 L1344.27,2099.54 L1358.14,2099.62 L1372.01,2099.71 L1385.87,2099.80 L1399.74,2099.90 L1413.60,2099.99 L1427.47,2100.09 L1441.34,2100.20 L1455.20,2100.30 L1469.07,2100.42 L1482.93,2100.53 L1496.80,2100.65" stroke="#77AC30"/>
<path d="M110.20,1713.38 L124.07,1767.49 L137.93,1831.15 L151.80,1887.66 L165.66,1931.01 L179.53,1963.00 L193.40,1986.38 L207.26,2003.91 L221.13,2017.33 L234.99,2027.84 L248.86,2036.39 L262.73,2043.53 L276.59,2049.59 L290.46,2054.77 L304.32,2059.23 L318.19,2063.07 L332.06,2066.36 L345.92,2069.17 L359.79,2071.55 L373.65,2073.56 L387.52,2075.25 L401.39,2076.65 L415.25,2077.83 L429.12,2078.81 L442.98,2079.64 L456.85,2080.37 L470.72,2081.01 L484.58,2081.63 L498.45,2082.22 L512.31,2082.80 L526.18,2083.36 L540.05,2083.90 L553.91,2084.43 L567.78,2084.95 L581.64,2085.44 L595.51,2085.93 L609.38,2086.39 L623.24,2086.84 L637.11,2087.28 L650.97,2087.71 L664.84,2088.11 L678.71,2088.51 L692.57,2088.89 L706.44,2089.26 L720.30,2089.62 L734.17,2089.96 L748.04,2090.29 L761.90,2090.61 L775.77,2090.92 L789.63,2091.22 L803.50,2091.51 L817.37,2091.79 L831.23,2092.05 L845.10,2092.31 L858.96,2092.56 L872.83,2092.80 L886.70,2093.03 L900.56,2093.25 L914.43,2093.46 L928.29,2093.67 L942.16,2093.87 L956.03,2094.06 L969.89,2094.24 L983.76,2094.42 L997.62,2094.59 L1011.49,2094.76 L1025.36,2094.91 L1039.22,2095.07 L1053.09,2095.22 L1066.95,2095.36 L1080.82,2095.50 L1094.69,2095.63 L1108.55,2095.76 L1122.42,2095.89 L1136.28,2096.02 L1150.15,2096.14 L1164.02,2096.25 L1177.88,2096.37 L1191.75,2096.48 L1205.61,2096.59 L1219.48,2096.70 L1233.35,2096.81 L1247.21,2096.92 L1261.08,2097.02 L1274.94,2097.13 L1288.81,2097.23 L1302.68,2097.34 L1316.54,2097.45 L1330.41,2097.55 L1344.27,2097.66 L1358.14,2097.77 L1372.01,2097.88 L1385.87,2097.99 L1399.74,2098.11 L1413.60,2098.22 L1427.47,2098.34 L1441.34,2098.47 L1455.20,2098.59 L1469.07,2098.72 L1482.93,2098.86 L1496.80,2099.00" stroke="#4DBEEE"/>
<path d="M110.20,1577.57 L124.07,1630.31 L137.93,1682.25 L151.80,1732.17 L165.66,1779.28 L179.53,1823.23 L193.40,1864.07 L207.26,1900.47 L221.13,1930.11 L234.99,1953.69 L248.86,1972.64 L262.73,1988.06 L276.59,2000.61 L290.46,2010.72 L304.32,2018.93 L318.19,2025.78 L332.06,2031.61 L345.92,2036.64 L359.79,2041.06 L373.65,2045.00 L387.52,2048.56 L401.39,2051.82 L415.25,2054.87 L429.12,2057.73 L442.98,2060.40 L456.85,2062.89 L470.72,2065.21 L484.58,2067.37 L498.45,2069.37 L512.31,2071.23 L526.18,2072.94 L540.05,2074.51 L553.91,2075.96 L567.78,2077.28 L581.64,2078.49 L595.51,2079.59 L609.38,2080.58 L623.24,2081.48 L637.11,2082.28 L650.97,2083.00 L664.84,2083.64 L678.71,2084.21 L692.57,2084.71 L706.44,2085.15 L720.30,2085.54 L734.17,2085.87 L748.04,2086.17 L761.90,2086.42 L775.77,2086.64 L789.63,2086.83 L803.50,2087.01 L817.37,2087.16 L831.23,2087.31 L845.10,2087.45 L858.96,2087.60 L872.83,2087.75 L886.70,2087.92 L900.56,2088.10 L914.43,2088.29 L928.29,2088.50 L942.16,2088.72 L956.03,2088.96 L969.89,2089.20 L983.76,2089.46 L997.62,2089.72 L1011.49,2089.99 L1025.36,2090.27 L1039.22,2090.55 L1053.09,2090.84 L1066.95,2091.14 L1080.82,2091.43 L1094.69,2091.73 L1108.55,2092.03 L1122.42,2092.33 L1136.28,2092.63 L1150.15,2092.93 L1164.02,2093.22 L1177.88,2093.51 L1191.75,2093.80 L1205.61,2094.08 L1219.48,2094.35 L1233.35,2094.62 L1247.21,2094.87 L1261.08,2095.12 L1274.94,2095.36 L1288.81,2095.58 L1302.68,2095.79 L1316.54,2095.99 L1330.41,2096.17 L1344.27,2096.34 L1358.14,2096.49 L1372.01,2096.63 L1385.87,2096.74 L1399.74,2096.84 L1413.60,2096.91 L1427.47,2096.97 L1441.34,2097.00 L1455.20,2097.01 L1469.07,2097.01 L1482.93,2097.01 L1496.80,2097.01" stroke="#A2142F"/>
<path d="M110.20,1479.34 L124.07,1514.00 L137.93,1552.58 L151.80,1594.67 L165.66,1638.93 L179.53,1683.24 L193.40,1725.62 L207.26,1765.18 L221.13,1801.65 L234.99,1835.11 L248.86,1865.78 L262.73,1893.30 L276.59,1916.99 L290.46,1937.03 L304.32,1953.92 L318.19,1968.18 L332.06,1980.29 L345.92,1990.74 L359.79,1999.90 L373.65,2008.02 L387.52,2015.25 L401.39,2021.71 L415.25,2027.48 L429.12,2032.65 L442.98,2037.29 L456.85,2041.46 L470.72,2045.21 L484.58,2048.58 L498.45,2051.61 L512.31,2054.32 L526.18,2056.75 L540.05,2058.92 L553.91,2060.87 L567.78,2062.61 L581.64,2064.18 L595.51,2065.59 L609.38,2066.88 L623.24,2068.06 L637.11,2069.16 L650.97,2070.21 L664.84,2071.21 L678.71,2072.19 L692.57,2073.15 L706.44,2074.08 L720.30,2074.99 L734.17,2075.87 L748.04,2076.72 L761.90,2077.53 L775.77,2078.32 L789.63,2079.07 L803.50,2079.79 L817.37,2080.47 L831.23,2081.13 L845.10,2081.75 L858.96,2082.35 L872.83,2082.91 L886.70,2083.46 L900.56,2083.97 L914.43,2084.46 L928.29,2084.93 L942.16,2085.37 L956.03,2085.79 L969.89,2086.19 L983.76,2086.57 L997.62,2086.93 L1011.49,2087.27 L1025.36,2087.59 L1039.22,2087.90 L1053.09,2088.19 L1066.95,2088.46 L1080.82,2088.72 L1094.69,2088.97 L1108.55,2089.21 L1122.42,2089.43 L1136.28,2089.65 L1150.15,2089.85 L1164.02,2090.05 L1177.88,2090.24 L1191.75,2090.43 L1205.61,2090.60 L1219.48,2090.78 L1233.35,2090.95 L1247.21,2091.11 L1261.08,2091.28 L1274.94,2091.44 L1288.81,2091.60 L1302.68,2091.77 L1316.54,2091.93 L1330.41,2092.10 L1344.27,2092.27 L1358.14,2092.45 L1372.01,2092.63 L1385.87,2092.82 L1399.74,2093.02 L1413.60,2093.22 L1427.47,2093.43 L1441.34,2093.66 L1455.20,2093.89 L1469.07,2094.14 L1482.93,2094.39 L1496.80,2094.67" stroke="#0072BD"/>
<path d="M110.20,1410.46 L124.07,1435.31 L137.93,1463.38 L151.80,1494.77 L165.66,1528.99 L179.53,1564.98 L193.40,1602.17 L207.26,1640.02 L221.13,1677.95 L234.99,1715.32 L248.86,1751.60 L262.73,1785.93 L276.59,1817.12 L290.46,1844.82 L304.32,1869.21 L318.19,1890.67 L332.06,1909.64 L345.92,1926.48 L359.79,1941.44 L373.65,1954.76 L387.52,1966.60 L401.39,1977.11 L415.25,1986.44 L429.12,1994.78 L442.98,2002.30 L456.85,2009.11 L470.72,2015.28 L484.58,2020.90 L498.45,2025.99 L512.31,2030.63 L526.18,2034.84 L540.05,2038.67 L553.91,2042.15 L567.78,2045.31 L581.64,2048.17 L595.51,2050.77 L609.38,2053.13 L623.24,2055.27 L637.11,2057.21 L650.97,2058.97 L664.84,2060.57 L678.71,2062.03 L692.57,2063.36 L706.44,2064.59 L720.30,2065.71 L734.17,2066.77 L748.04,2067.76 L761.90,2068.70 L775.77,2069.60 L789.63,2070.49 L803.50,2071.35 L817.37,2072.19 L831.23,2073.00 L845.10,2073.79 L858.96,2074.56 L872.83,2075.31 L886.70,2076.03 L900.56,2076.73 L914.43,2077.42 L928.29,2078.08 L942.16,2078.72 L956.03,2079.34 L969.89,2079.94 L983.76,2080.52 L997.62,2081.08 L1011.49,2081.63 L1025.36,2082.15 L1039.22,2082.66 L1053.09,2083.15 L1066.95,2083.62 L1080.82,2084.08 L1094.69,2084.51 L1108.55,2084.93 L1122.42,2085.34 L1136.28,2085.73 L1150.15,2086.11 L1164.02,2086.47 L1177.88,2086.81 L1191.75,2087.14 L1205.61,2087.46 L1219.48,2087.77 L1233.35,2088.06 L1247.21,2088.34 L1261.08,2088.61 L1274.94,2088.86 L1288.81,2089.11 L1302.68,2089.34 L1316.54,2089.56 L1330.41,2089.78 L1344.27,2089.98 L1358.14,2090.18 L1372.01,2090.36 L1385.87,2090.54 L1399.74,2090.71 L1413.60,2090.87 L1427.47,2091.03 L1441.34,2091.17 L1455.20,2091.32 L1469.07,2091.45 L1482.93,2091.58 L1496.80,2091.71" stroke="#D95319"/>
<path d="M110.20,1369.48 L124.07,1383.58 L137.93,1401.96 L151.80,1424.64 L165.66,1451.31 L179.53,1481.40 L193.40,1513.44 L207.26,1546.85 L221.13,1581.19 L234.99,1615.83 L248.86,1650.13 L262.73,1683.47 L276.59,1715.40 L290.46,1745.63 L304.32,1774.02 L318.19,1800.58 L332.06,1825.28 L345.92,1847.96 L359.79,1868.57 L373.65,1887.20 L387.52,1904.00 L401.39,1919.13 L415.25,1932.77 L429.12,1945.08 L442.98,1956.25 L456.85,1966.44 L470.72,1975.77 L484.58,1984.31 L498.45,1992.15 L512.31,1999.33 L526.18,2005.90 L540.05,2011.88 L553.91,2017.30 L567.78,2022.19 L581.64,2026.62 L595.51,2030.62 L609.38,2034.24 L623.24,2037.53 L637.11,2040.50 L650.97,2043.20 L664.84,2045.66 L678.71,2047.90 L692.57,2049.95 L706.44,2051.83 L720.30,2053.57 L734.17,2055.18 L748.04,2056.69 L761.90,2058.11 L775.77,2059.47 L789.63,2060.79 L803.50,2062.05 L817.37,2063.27 L831.23,2064.44 L845.10,2065.57 L858.96,2066.65 L872.83,2067.70 L886.70,2068.70 L900.56,2069.67 L914.43,2070.60 L928.29,2071.49 L942.16,2072.35 L956.03,2073.18 L969.89,2073.97 L983.76,2074.74 L997.62,2075.48 L1011.49,2076.19 L1025.36,2076.88 L1039.22,2077.54 L1053.09,2078.18 L1066.95,2078.79 L1080.82,2079.37 L1094.69,2079.94 L1108.55,2080.48 L1122.42,2080.99 L1136.28,2081.49 L1150.15,2081.96 L1164.02,2082.41 L1177.88,2082.84 L1191.75,2083.25 L1205.61,2083.64 L1219.48,2084.01 L1233.35,2084.36 L1247.21,2084.69 L1261.08,2085.00 L1274.94,2085.30 L1288.81,2085.57 L1302.68,2085.83 L1316.54,2086.07 L1330.41,2086.30 L1344.27,2086.51 L1358.14,2086.70 L1372.01,2086.88 L1385.87,2087.04 L1399.74,2087.19 L1413.60,2087.33 L1427.47,2087.45 L1441.34,2087.56 L1455.20,2087.65 L1469.07,2087.73 L1482.93,2087.80 L1496.80,2087.86" stroke="#EDB120"/>
<path d="M110.2,1356.18 H1496.8" stroke="#7E2F8E"/>
</g>
<rect x="1108.6" y="1386.9" width="375.70000000000005" height="338.29999999999995" fill="#fff" stroke="#262626" stroke-width="1.3"/>
<path d="M1121.3,1406.70H1217.5" stroke="#0072BD" stroke-width="4.3" fill="none"/>
<path d="M1121.3,1436.65H1217.5" stroke="#D95319" stroke-width="4.3" fill="none"/>
<path d="M1121.3,1466.60H1217.5" stroke="#EDB120" stroke-width="4.3" fill="none"/>
<path d="M1121.3,1496.55H1217.5" stroke="#7E2F8E" stroke-width="4.3" fill="none"/>
<path d="M1121.3,1526.50H1217.5" stroke="#77AC30" stroke-width="4.3" fill="none"/>
<path d="M1121.3,1556.45H1217.5" stroke="#4DBEEE" stroke-width="4.3" fill="none"/>
<path d="M1121.3,1586.40H1217.5" stroke="#A2142F" stroke-width="4.3" fill="none"/>
<path d="M1121.3,1616.35H1217.5" stroke="#0072BD" stroke-width="4.3" fill="none"/>
<path d="M1121.3,1646.30H1217.5" stroke="#D95319" stroke-width="4.3" fill="none"/>
<path d="M1121.3,1676.25H1217.5" stroke="#EDB120" stroke-width="4.3" fill="none"/>
<path d="M1121.3,1706.20H1217.5" stroke="#7E2F8E" stroke-width="4.3" fill="none"/>
<text stroke="#000" stroke-width="0.488" transform="matrix(0.28785 0 0 0.24571 1225.96 1416.30)" font-size="100">Cooperativity = 1</text>
<text stroke="#000" stroke-width="0.488" transform="matrix(0.28785 0 0 0.24571 1225.96 1446.25)" font-size="100">Cooperativity = 0.9</text>
<text stroke="#000" stroke-width="0.488" transform="matrix(0.28785 0 0 0.24571 1225.96 1476.20)" font-size="100">Cooperativity = 0.8</text>
<text stroke="#000" stroke-width="0.488" transform="matrix(0.28785 0 0 0.24571 1225.96 1506.15)" font-size="100">Cooperativity = 0.7</text>
<text stroke="#000" stroke-width="0.488" transform="matrix(0.28785 0 0 0.24571 1225.96 1536.10)" font-size="100">Cooperativity = 0.6</text>
<text stroke="#000" stroke-width="0.488" transform="matrix(0.28785 0 0 0.24571 1225.96 1566.05)" font-size="100">Cooperativity = 0.5</text>
<text stroke="#000" stroke-width="0.488" transform="matrix(0.28785 0 0 0.24571 1225.96 1596.00)" font-size="100">Cooperativity = 0.4</text>
<text stroke="#000" stroke-width="0.488" transform="matrix(0.28785 0 0 0.24571 1225.96 1625.95)" font-size="100">Cooperativity = 0.3</text>
<text stroke="#000" stroke-width="0.488" transform="matrix(0.28785 0 0 0.24571 1225.96 1655.90)" font-size="100">Cooperativity = 0.2</text>
<text stroke="#000" stroke-width="0.488" transform="matrix(0.28785 0 0 0.24571 1225.96 1685.85)" font-size="100">Cooperativity = 0.1</text>
<text stroke="#000" stroke-width="0.488" transform="matrix(0.28785 0 0 0.24571 1225.96 1715.80)" font-size="100">Cooperativity = 0</text>
<text stroke="#000" stroke-width="0.469" transform="matrix(0.33010 0 0 0.25571 78.23 2119.30)" font-size="100">0</text>
<text stroke="#000" stroke-width="0.469" transform="matrix(0.33010 0 0 0.25571 50.84 1940.86)" font-size="100">0.5</text>
<text stroke="#000" stroke-width="0.469" transform="matrix(0.33010 0 0 0.25571 78.56 1762.42)" font-size="100">1</text>
<text stroke="#000" stroke-width="0.469" transform="matrix(0.33010 0 0 0.25571 50.84 1583.98)" font-size="100">1.5</text>
<text stroke="#000" stroke-width="0.469" transform="matrix(0.33010 0 0 0.25571 78.73 1405.54)" font-size="100">2</text>
<text stroke="#000" stroke-width="0.469" transform="matrix(0.33010 0 0 0.25571 50.84 1227.10)" font-size="100">2.5</text>
<text stroke="#000" stroke-width="0.457" transform="matrix(0.33932 0 0 0.26286 110.20 2147.80)" font-size="100" text-anchor="middle">0</text>
<text stroke="#000" stroke-width="0.457" transform="matrix(0.33932 0 0 0.26286 248.86 2147.80)" font-size="100" text-anchor="middle">0.1</text>
<text stroke="#000" stroke-width="0.457" transform="matrix(0.33932 0 0 0.26286 387.52 2147.80)" font-size="100" text-anchor="middle">0.2</text>
<text stroke="#000" stroke-width="0.457" transform="matrix(0.33932 0 0 0.26286 526.18 2147.80)" font-size="100" text-anchor="middle">0.3</text>
<text stroke="#000" stroke-width="0.457" transform="matrix(0.33932 0 0 0.26286 664.84 2147.80)" font-size="100" text-anchor="middle">0.4</text>
<text stroke="#000" stroke-width="0.457" transform="matrix(0.33932 0 0 0.26286 803.50 2147.80)" font-size="100" text-anchor="middle">0.5</text>
<text stroke="#000" stroke-width="0.457" transform="matrix(0.33932 0 0 0.26286 942.16 2147.80)" font-size="100" text-anchor="middle">0.6</text>
<text stroke="#000" stroke-width="0.457" transform="matrix(0.33932 0 0 0.26286 1080.82 2147.80)" font-size="100" text-anchor="middle">0.7</text>
<text stroke="#000" stroke-width="0.457" transform="matrix(0.33932 0 0 0.26286 1219.48 2147.80)" font-size="100" text-anchor="middle">0.8</text>
<text stroke="#000" stroke-width="0.457" transform="matrix(0.33932 0 0 0.26286 1358.14 2147.80)" font-size="100" text-anchor="middle">0.9</text>
<text stroke="#000" stroke-width="0.457" transform="matrix(0.33932 0 0 0.26286 1496.80 2147.80)" font-size="100" text-anchor="middle">1</text>
<text stroke="#000" stroke-width="1.610" transform="matrix(0.41967 0 0 0.43478 14.27 1203.00)" font-size="100" font-weight="bold">B</text>
<text stroke="#000" stroke-width="2.322" transform="matrix(0.35193 0 0 0.30145 443.01 1206.80)" font-size="100" font-weight="bold">Hospitalization against opinion spread rate</text>
<text stroke="#000" stroke-width="0.435" transform="matrix(0.35098 0 0 0.27571 646.52 2184.00)" font-size="100" font-weight="normal">Opinion spread rate</text>
<text stroke="#000" stroke-width="0.340" transform="matrix(0 -0.28812 0.35310 0 33.10 1759.90)" font-size="100" fill="#000">Hospitalization</text>
<path d="M115.2,1198.8L129.8,1210.2M115.2,1210.2L129.8,1198.8" stroke="#1a1a1a" stroke-width="1.3" fill="none"/>
<text stroke="#000" stroke-width="0.466" transform="matrix(0.31700 0 0 0.25775 135.62 1211.74)" font-size="100" font-weight="normal">10</text>
<text stroke="#000" stroke-width="0.560" transform="matrix(0.26737 0 0 0.21429 173.23 1198.79)" font-size="100" font-weight="normal">5</text>
<path d="M1412.5,2178.9L1426.7,2189.9M1412.5,2189.9L1426.7,2178.9" stroke="#1a1a1a" stroke-width="1.3" fill="none"/>
<text stroke="#000" stroke-width="0.463" transform="matrix(0.31600 0 0 0.25915 1432.83 2191.34)" font-size="100" font-weight="normal">10</text>
<text stroke="#000" stroke-width="0.592" transform="matrix(0.26000 0 0 0.20282 1470.83 2178.20)" font-size="100" font-weight="normal">-9</text>
</svg></body></html>
